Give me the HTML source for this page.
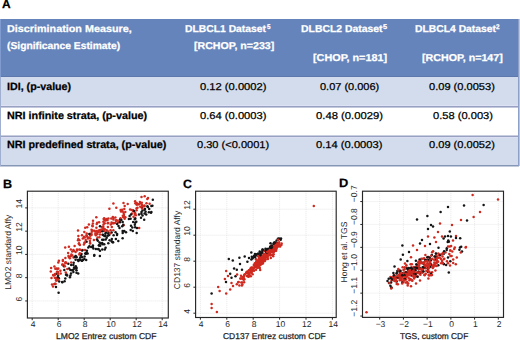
<!DOCTYPE html>
<html><head><meta charset="utf-8"><style>
html,body{margin:0;padding:0;background:#fff;width:520px;height:340px;overflow:hidden;position:relative;font-family:"Liberation Sans",sans-serif;text-rendering:geometricPrecision}
.bx{position:absolute}
.tx{position:absolute;white-space:nowrap;line-height:1;transform-origin:0 0;-webkit-text-stroke:0.25px currentColor}
svg{position:absolute;left:0;top:0}
.g{stroke:#e2e2e2;stroke-width:0.8;stroke-dasharray:1 1}
.bxl{fill:none;stroke:#262626;stroke-width:1.15}
.tkl{stroke:#262626;stroke-width:1}
.tk{font-size:8.5px;fill:#262626}
.al{font-size:8.5px;fill:#262626}
</style></head><body>

<div class="bx" style="left:0;top:19px;width:519px;height:58px;background:#6484bb"></div>
<div class="bx" style="left:0;top:76px;width:519px;height:1px;background:#5c78ad"></div>
<div class="bx" style="left:0;top:77px;width:519px;height:29px;background:#d3dcec"></div>
<div class="bx" style="left:0;top:105px;width:519px;height:1px;background:#dde3f4"></div>
<div class="bx" style="left:0;top:106px;width:519px;height:1px;background:#98a1c2"></div>
<div class="bx" style="left:0;top:107px;width:519px;height:1px;background:#c3c9dd"></div>
<div class="bx" style="left:0;top:108px;width:519px;height:28px;background:#fff"></div>
<div class="bx" style="left:0;top:135px;width:519px;height:1px;background:#c8cee0"></div>
<div class="bx" style="left:0;top:136px;width:519px;height:1px;background:#98a1c2"></div>
<div class="bx" style="left:0;top:137px;width:519px;height:28px;background:#d3dcec"></div>
<div class="bx" style="left:0;top:137px;width:519px;height:1px;background:#d9def2"></div>
<div class="bx" style="left:0;top:165px;width:519px;height:1px;background:#8596b6"></div>
<div class="bx" style="left:0;top:166px;width:519px;height:1px;background:#c4ccdc"></div>
<div class="bx" style="left:0;top:77px;width:1px;height:89px;background:#a0aed0"></div>
<div class="bx" style="left:0;top:19px;width:1px;height:58px;background:#7f9bd0"></div>
<div class="bx" style="left:518px;top:19px;width:1px;height:147px;background:#8ea0c8"></div>
<div class="bx" style="left:519px;top:19px;width:1px;height:147px;background:#b8c6e6"></div>
<div class="tx" style="left:1.89px;top:-1.00px;font-size:11.9px;font-weight:bold;color:#000;transform:scaleX(1.0071)">A</div><div class="tx" style="left:6.56px;top:25.00px;font-size:10.0px;font-weight:bold;color:#fff;transform:scaleX(1.0785)">Discrimination Measure,</div><div class="tx" style="left:6.55px;top:41.50px;font-size:10.0px;font-weight:bold;color:#fff;transform:scaleX(1.0276)">(Significance Estimate)</div><div class="tx" style="left:185.49px;top:25.00px;font-size:10.0px;font-weight:bold;color:#fff;transform:scaleX(1.0336)">DLBCL1 Dataset</div><div class="tx" style="left:267.31px;top:24.70px;font-size:6.9px;font-weight:bold;color:#fff;transform:scaleX(0.9160)">5</div><div class="tx" style="left:193.57px;top:41.50px;font-size:10.0px;font-weight:bold;color:#fff;transform:scaleX(1.0606)">[RCHOP, n=233]</div><div class="tx" style="left:300.89px;top:25.00px;font-size:10.0px;font-weight:bold;color:#fff;transform:scaleX(1.0413)">DLBCL2 Dataset</div><div class="tx" style="left:383.01px;top:24.50px;font-size:6.9px;font-weight:bold;color:#fff;transform:scaleX(1.0646)">5</div><div class="tx" style="left:312.56px;top:53.50px;font-size:10.0px;font-weight:bold;color:#fff;transform:scaleX(1.0820)">[CHOP, n=181]</div><div class="tx" style="left:414.69px;top:25.20px;font-size:10.0px;font-weight:bold;color:#fff;transform:scaleX(1.0336)">DLBCL4 Dataset</div><div class="tx" style="left:496.23px;top:24.70px;font-size:6.9px;font-weight:bold;color:#fff;transform:scaleX(0.9151)">2</div><div class="tx" style="left:422.46px;top:53.50px;font-size:10.0px;font-weight:bold;color:#fff;transform:scaleX(1.0673)">[RCHOP, n=147]</div><div class="tx" style="left:6.77px;top:81.50px;font-size:10.5px;font-weight:bold;color:#000;transform:scaleX(1.0178)">IDI, (p-value)</div><div class="tx" style="left:6.77px;top:110.80px;font-size:10.5px;font-weight:bold;color:#000;transform:scaleX(1.0263)">NRI infinite strata, (p-value)</div><div class="tx" style="left:6.77px;top:140.30px;font-size:10.5px;font-weight:bold;color:#000;transform:scaleX(1.0232)">NRI predefined strata, (p-value)</div><div class="tx" style="left:200.34px;top:82.60px;font-size:10.0px;font-weight:normal;color:#000;transform:scaleX(1.1170)">0.12 (0.0002)</div><div class="tx" style="left:200.34px;top:112.00px;font-size:10.0px;font-weight:normal;color:#000;transform:scaleX(1.1170)">0.64 (0.0003)</div><div class="tx" style="left:197.35px;top:141.30px;font-size:10.0px;font-weight:normal;color:#000;transform:scaleX(1.1048)">0.30 (&lt;0.0001)</div><div class="tx" style="left:319.75px;top:82.80px;font-size:10.0px;font-weight:normal;color:#000;transform:scaleX(1.0986)">0.07 (0.006)</div><div class="tx" style="left:316.34px;top:112.00px;font-size:10.0px;font-weight:normal;color:#000;transform:scaleX(1.1255)">0.48 (0.0029)</div><div class="tx" style="left:316.34px;top:141.30px;font-size:10.0px;font-weight:normal;color:#000;transform:scaleX(1.1170)">0.14 (0.0003)</div><div class="tx" style="left:429.44px;top:82.80px;font-size:10.0px;font-weight:normal;color:#000;transform:scaleX(1.1068)">0.09 (0.0053)</div><div class="tx" style="left:432.94px;top:112.00px;font-size:10.0px;font-weight:normal;color:#000;transform:scaleX(1.1119)">0.58 (0.003)</div><div class="tx" style="left:429.44px;top:141.30px;font-size:10.0px;font-weight:normal;color:#000;transform:scaleX(1.1068)">0.09 (0.0052)</div><div class="tx" style="left:3.19px;top:177.60px;font-size:12.0px;font-weight:bold;color:#000;transform:scaleX(1.0474)">B</div><div class="tx" style="left:182.91px;top:177.80px;font-size:12.0px;font-weight:bold;color:#000;transform:scaleX(1.0258)">C</div><div class="tx" style="left:339.48px;top:177.00px;font-size:12.0px;font-weight:bold;color:#000;transform:scaleX(1.0686)">D</div><div class="tx" style="left:56.48px;top:331.80px;font-size:8.5px;font-weight:normal;color:#222;transform:scaleX(1.0086)">LMO2 Entrez custom CDF</div><div class="tx" style="left:223.46px;top:331.80px;font-size:8.5px;font-weight:normal;color:#222;transform:scaleX(0.9972)">CD137 Entrez custom CDF</div><div class="tx" style="left:399.56px;top:331.80px;font-size:8.5px;font-weight:normal;color:#222;transform:scaleX(0.9828)">TGS, custom CDF</div>
<svg width="520" height="340" viewBox="0 0 520 340">
<line x1="32.20" y1="191.2" x2="32.20" y2="318.0" class="g"/>
<line x1="58.20" y1="191.2" x2="58.20" y2="318.0" class="g"/>
<line x1="84.20" y1="191.2" x2="84.20" y2="318.0" class="g"/>
<line x1="110.20" y1="191.2" x2="110.20" y2="318.0" class="g"/>
<line x1="136.20" y1="191.2" x2="136.20" y2="318.0" class="g"/>
<line x1="162.20" y1="191.2" x2="162.20" y2="318.0" class="g"/>
<line x1="27.4" y1="300.94" x2="168.3" y2="300.94" class="g"/>
<line x1="27.4" y1="277.68" x2="168.3" y2="277.68" class="g"/>
<line x1="27.4" y1="254.42" x2="168.3" y2="254.42" class="g"/>
<line x1="27.4" y1="231.16" x2="168.3" y2="231.16" class="g"/>
<line x1="27.4" y1="207.90" x2="168.3" y2="207.90" class="g"/>
<circle cx="90.2" cy="235.7" r="1.25" fill="#cf2a20"/>
<circle cx="152.4" cy="205.8" r="1.25" fill="#151515"/>
<circle cx="88.3" cy="247.5" r="1.25" fill="#151515"/>
<circle cx="122.2" cy="209.8" r="1.25" fill="#cf2a20"/>
<circle cx="123.3" cy="217.3" r="1.25" fill="#cf2a20"/>
<circle cx="146.2" cy="214.4" r="1.25" fill="#151515"/>
<circle cx="135.2" cy="213.3" r="1.25" fill="#cf2a20"/>
<circle cx="107.7" cy="223.2" r="1.25" fill="#cf2a20"/>
<circle cx="123.5" cy="225.3" r="1.25" fill="#cf2a20"/>
<circle cx="122.2" cy="226.2" r="1.25" fill="#151515"/>
<circle cx="124.3" cy="208.9" r="1.25" fill="#cf2a20"/>
<circle cx="70.4" cy="275.4" r="1.25" fill="#151515"/>
<circle cx="123.7" cy="231.2" r="1.25" fill="#151515"/>
<circle cx="136.9" cy="204.4" r="1.25" fill="#cf2a20"/>
<circle cx="79.0" cy="243.2" r="1.25" fill="#cf2a20"/>
<circle cx="79.9" cy="244.9" r="1.25" fill="#cf2a20"/>
<circle cx="99.9" cy="234.6" r="1.25" fill="#cf2a20"/>
<circle cx="84.0" cy="237.1" r="1.25" fill="#cf2a20"/>
<circle cx="102.3" cy="249.5" r="1.25" fill="#151515"/>
<circle cx="101.1" cy="230.4" r="1.25" fill="#cf2a20"/>
<circle cx="120.6" cy="209.9" r="1.25" fill="#cf2a20"/>
<circle cx="111.8" cy="239.1" r="1.25" fill="#151515"/>
<circle cx="119.3" cy="221.7" r="1.25" fill="#cf2a20"/>
<circle cx="84.4" cy="242.8" r="1.25" fill="#cf2a20"/>
<circle cx="77.1" cy="250.6" r="1.25" fill="#cf2a20"/>
<circle cx="112.2" cy="223.2" r="1.25" fill="#cf2a20"/>
<circle cx="99.5" cy="242.6" r="1.25" fill="#151515"/>
<circle cx="144.2" cy="219.7" r="1.25" fill="#151515"/>
<circle cx="124.7" cy="205.9" r="1.25" fill="#cf2a20"/>
<circle cx="56.8" cy="277.8" r="1.25" fill="#cf2a20"/>
<circle cx="132.0" cy="213.6" r="1.25" fill="#cf2a20"/>
<circle cx="58.1" cy="275.4" r="1.25" fill="#151515"/>
<circle cx="78.0" cy="260.0" r="1.25" fill="#151515"/>
<circle cx="77.0" cy="249.4" r="1.25" fill="#cf2a20"/>
<circle cx="147.3" cy="199.0" r="1.25" fill="#cf2a20"/>
<circle cx="94.3" cy="254.9" r="1.25" fill="#151515"/>
<circle cx="98.4" cy="249.2" r="1.25" fill="#151515"/>
<circle cx="95.8" cy="235.3" r="1.25" fill="#cf2a20"/>
<circle cx="60.4" cy="270.8" r="1.25" fill="#cf2a20"/>
<circle cx="145.6" cy="211.7" r="1.25" fill="#151515"/>
<circle cx="70.4" cy="270.1" r="1.25" fill="#151515"/>
<circle cx="76.6" cy="268.1" r="1.25" fill="#151515"/>
<circle cx="93.4" cy="248.6" r="1.25" fill="#151515"/>
<circle cx="117.1" cy="234.1" r="1.25" fill="#151515"/>
<circle cx="120.2" cy="219.3" r="1.25" fill="#cf2a20"/>
<circle cx="72.3" cy="255.6" r="1.25" fill="#cf2a20"/>
<circle cx="140.7" cy="203.2" r="1.25" fill="#cf2a20"/>
<circle cx="79.6" cy="259.6" r="1.25" fill="#151515"/>
<circle cx="56.4" cy="273.8" r="1.25" fill="#151515"/>
<circle cx="64.3" cy="270.0" r="1.25" fill="#151515"/>
<circle cx="136.6" cy="210.3" r="1.25" fill="#cf2a20"/>
<circle cx="104.1" cy="231.0" r="1.25" fill="#cf2a20"/>
<circle cx="62.9" cy="261.1" r="1.25" fill="#cf2a20"/>
<circle cx="116.8" cy="220.6" r="1.25" fill="#cf2a20"/>
<circle cx="74.0" cy="251.0" r="1.25" fill="#cf2a20"/>
<circle cx="108.7" cy="233.3" r="1.25" fill="#151515"/>
<circle cx="124.4" cy="217.2" r="1.25" fill="#cf2a20"/>
<circle cx="97.5" cy="237.6" r="1.25" fill="#cf2a20"/>
<circle cx="116.2" cy="220.3" r="1.25" fill="#cf2a20"/>
<circle cx="73.4" cy="264.9" r="1.25" fill="#151515"/>
<circle cx="100.0" cy="230.0" r="1.25" fill="#cf2a20"/>
<circle cx="90.4" cy="238.4" r="1.25" fill="#cf2a20"/>
<circle cx="75.6" cy="259.8" r="1.25" fill="#151515"/>
<circle cx="148.9" cy="212.2" r="1.25" fill="#151515"/>
<circle cx="134.9" cy="214.6" r="1.25" fill="#cf2a20"/>
<circle cx="71.0" cy="273.5" r="1.25" fill="#151515"/>
<circle cx="112.6" cy="242.2" r="1.25" fill="#151515"/>
<circle cx="68.3" cy="263.7" r="1.25" fill="#151515"/>
<circle cx="71.2" cy="262.4" r="1.25" fill="#cf2a20"/>
<circle cx="86.5" cy="235.3" r="1.25" fill="#cf2a20"/>
<circle cx="94.2" cy="255.7" r="1.25" fill="#151515"/>
<circle cx="100.6" cy="243.4" r="1.25" fill="#151515"/>
<circle cx="141.0" cy="217.7" r="1.25" fill="#151515"/>
<circle cx="100.2" cy="231.9" r="1.25" fill="#cf2a20"/>
<circle cx="100.0" cy="250.8" r="1.25" fill="#151515"/>
<circle cx="79.4" cy="260.1" r="1.25" fill="#151515"/>
<circle cx="89.0" cy="238.1" r="1.25" fill="#cf2a20"/>
<circle cx="55.0" cy="273.9" r="1.25" fill="#cf2a20"/>
<circle cx="130.1" cy="209.4" r="1.25" fill="#cf2a20"/>
<circle cx="78.4" cy="236.0" r="1.25" fill="#cf2a20"/>
<circle cx="104.7" cy="220.3" r="1.25" fill="#cf2a20"/>
<circle cx="71.2" cy="265.0" r="1.25" fill="#151515"/>
<circle cx="63.7" cy="264.9" r="1.25" fill="#cf2a20"/>
<circle cx="69.9" cy="277.2" r="1.25" fill="#151515"/>
<circle cx="86.6" cy="241.8" r="1.25" fill="#151515"/>
<circle cx="122.6" cy="231.1" r="1.25" fill="#151515"/>
<circle cx="51.1" cy="268.0" r="1.25" fill="#cf2a20"/>
<circle cx="80.2" cy="257.4" r="1.25" fill="#151515"/>
<circle cx="133.1" cy="210.4" r="1.25" fill="#151515"/>
<circle cx="78.9" cy="244.1" r="1.25" fill="#cf2a20"/>
<circle cx="106.1" cy="232.6" r="1.25" fill="#151515"/>
<circle cx="78.0" cy="240.2" r="1.25" fill="#cf2a20"/>
<circle cx="118.5" cy="226.0" r="1.25" fill="#151515"/>
<circle cx="108.3" cy="243.3" r="1.25" fill="#151515"/>
<circle cx="65.8" cy="272.4" r="1.25" fill="#cf2a20"/>
<circle cx="97.8" cy="240.8" r="1.25" fill="#151515"/>
<circle cx="79.4" cy="240.3" r="1.25" fill="#cf2a20"/>
<circle cx="111.3" cy="218.6" r="1.25" fill="#cf2a20"/>
<circle cx="56.4" cy="268.6" r="1.25" fill="#cf2a20"/>
<circle cx="99.1" cy="222.3" r="1.25" fill="#cf2a20"/>
<circle cx="122.6" cy="238.2" r="1.25" fill="#151515"/>
<circle cx="82.0" cy="260.7" r="1.25" fill="#151515"/>
<circle cx="107.8" cy="235.7" r="1.25" fill="#151515"/>
<circle cx="130.7" cy="230.1" r="1.25" fill="#151515"/>
<circle cx="102.3" cy="231.2" r="1.25" fill="#151515"/>
<circle cx="73.4" cy="271.9" r="1.25" fill="#151515"/>
<circle cx="57.5" cy="269.0" r="1.25" fill="#cf2a20"/>
<circle cx="103.2" cy="226.6" r="1.25" fill="#cf2a20"/>
<circle cx="92.9" cy="247.1" r="1.25" fill="#151515"/>
<circle cx="86.2" cy="260.0" r="1.25" fill="#151515"/>
<circle cx="135.8" cy="215.2" r="1.25" fill="#cf2a20"/>
<circle cx="149.2" cy="208.9" r="1.25" fill="#151515"/>
<circle cx="76.2" cy="256.4" r="1.25" fill="#cf2a20"/>
<circle cx="101.9" cy="227.0" r="1.25" fill="#cf2a20"/>
<circle cx="85.2" cy="253.6" r="1.25" fill="#151515"/>
<circle cx="81.5" cy="254.1" r="1.25" fill="#151515"/>
<circle cx="86.7" cy="233.6" r="1.25" fill="#cf2a20"/>
<circle cx="128.9" cy="218.9" r="1.25" fill="#151515"/>
<circle cx="122.6" cy="211.4" r="1.25" fill="#cf2a20"/>
<circle cx="65.5" cy="262.6" r="1.25" fill="#cf2a20"/>
<circle cx="103.4" cy="221.7" r="1.25" fill="#cf2a20"/>
<circle cx="74.1" cy="267.4" r="1.25" fill="#151515"/>
<circle cx="68.9" cy="246.8" r="1.25" fill="#cf2a20"/>
<circle cx="103.0" cy="235.0" r="1.25" fill="#151515"/>
<circle cx="91.8" cy="231.8" r="1.25" fill="#cf2a20"/>
<circle cx="60.7" cy="273.4" r="1.25" fill="#cf2a20"/>
<circle cx="141.5" cy="212.0" r="1.25" fill="#151515"/>
<circle cx="115.9" cy="239.1" r="1.25" fill="#151515"/>
<circle cx="152.8" cy="199.8" r="1.25" fill="#151515"/>
<circle cx="82.0" cy="235.3" r="1.25" fill="#cf2a20"/>
<circle cx="136.7" cy="202.9" r="1.25" fill="#cf2a20"/>
<circle cx="68.1" cy="253.1" r="1.25" fill="#cf2a20"/>
<circle cx="82.7" cy="250.0" r="1.25" fill="#cf2a20"/>
<circle cx="138.2" cy="204.2" r="1.25" fill="#cf2a20"/>
<circle cx="58.2" cy="273.9" r="1.25" fill="#cf2a20"/>
<circle cx="102.6" cy="234.7" r="1.25" fill="#151515"/>
<circle cx="84.6" cy="256.4" r="1.25" fill="#151515"/>
<circle cx="104.7" cy="223.3" r="1.25" fill="#cf2a20"/>
<circle cx="57.0" cy="271.7" r="1.25" fill="#cf2a20"/>
<circle cx="53.0" cy="286.5" r="1.25" fill="#cf2a20"/>
<circle cx="113.4" cy="230.3" r="1.25" fill="#cf2a20"/>
<circle cx="139.9" cy="202.1" r="1.25" fill="#cf2a20"/>
<circle cx="54.8" cy="275.0" r="1.25" fill="#cf2a20"/>
<circle cx="141.8" cy="202.7" r="1.25" fill="#cf2a20"/>
<circle cx="103.5" cy="224.5" r="1.25" fill="#cf2a20"/>
<circle cx="144.4" cy="205.5" r="1.25" fill="#cf2a20"/>
<circle cx="58.3" cy="262.4" r="1.25" fill="#cf2a20"/>
<circle cx="66.9" cy="274.4" r="1.25" fill="#cf2a20"/>
<circle cx="85.0" cy="250.1" r="1.25" fill="#cf2a20"/>
<circle cx="135.2" cy="218.2" r="1.25" fill="#151515"/>
<circle cx="65.3" cy="278.5" r="1.25" fill="#151515"/>
<circle cx="82.1" cy="250.6" r="1.25" fill="#151515"/>
<circle cx="134.8" cy="219.3" r="1.25" fill="#151515"/>
<circle cx="83.9" cy="244.6" r="1.25" fill="#cf2a20"/>
<circle cx="65.4" cy="262.6" r="1.25" fill="#cf2a20"/>
<circle cx="98.3" cy="249.1" r="1.25" fill="#151515"/>
<circle cx="151.0" cy="212.8" r="1.25" fill="#151515"/>
<circle cx="131.0" cy="225.7" r="1.25" fill="#151515"/>
<circle cx="147.4" cy="206.3" r="1.25" fill="#151515"/>
<circle cx="115.9" cy="220.8" r="1.25" fill="#cf2a20"/>
<circle cx="84.3" cy="232.1" r="1.25" fill="#cf2a20"/>
<circle cx="54.5" cy="284.0" r="1.25" fill="#151515"/>
<circle cx="103.3" cy="229.3" r="1.25" fill="#cf2a20"/>
<circle cx="116.3" cy="207.7" r="1.25" fill="#cf2a20"/>
<circle cx="90.1" cy="243.1" r="1.25" fill="#cf2a20"/>
<circle cx="136.6" cy="204.4" r="1.25" fill="#cf2a20"/>
<circle cx="111.7" cy="241.2" r="1.25" fill="#151515"/>
<circle cx="136.6" cy="208.2" r="1.25" fill="#cf2a20"/>
<circle cx="133.2" cy="222.1" r="1.25" fill="#151515"/>
<circle cx="76.5" cy="257.2" r="1.25" fill="#151515"/>
<circle cx="91.5" cy="229.7" r="1.25" fill="#cf2a20"/>
<circle cx="87.5" cy="237.0" r="1.25" fill="#cf2a20"/>
<circle cx="135.1" cy="201.2" r="1.25" fill="#cf2a20"/>
<circle cx="58.9" cy="260.7" r="1.25" fill="#cf2a20"/>
<circle cx="90.0" cy="243.4" r="1.25" fill="#cf2a20"/>
<circle cx="73.5" cy="257.5" r="1.25" fill="#cf2a20"/>
<circle cx="117.7" cy="222.8" r="1.25" fill="#cf2a20"/>
<circle cx="72.2" cy="251.6" r="1.25" fill="#cf2a20"/>
<circle cx="104.8" cy="249.6" r="1.25" fill="#151515"/>
<circle cx="78.0" cy="230.4" r="1.25" fill="#cf2a20"/>
<circle cx="119.3" cy="220.7" r="1.25" fill="#cf2a20"/>
<circle cx="125.3" cy="212.0" r="1.25" fill="#cf2a20"/>
<circle cx="73.7" cy="262.7" r="1.25" fill="#151515"/>
<circle cx="142.0" cy="204.9" r="1.25" fill="#cf2a20"/>
<circle cx="68.5" cy="255.9" r="1.25" fill="#cf2a20"/>
<circle cx="142.2" cy="207.7" r="1.25" fill="#151515"/>
<circle cx="118.3" cy="241.0" r="1.25" fill="#151515"/>
<circle cx="85.9" cy="253.7" r="1.25" fill="#151515"/>
<circle cx="96.2" cy="233.2" r="1.25" fill="#cf2a20"/>
<circle cx="53.2" cy="275.1" r="1.25" fill="#cf2a20"/>
<circle cx="134.8" cy="212.6" r="1.25" fill="#cf2a20"/>
<circle cx="76.5" cy="272.7" r="1.25" fill="#151515"/>
<circle cx="86.2" cy="253.6" r="1.25" fill="#151515"/>
<circle cx="84.4" cy="259.1" r="1.25" fill="#151515"/>
<circle cx="105.4" cy="219.4" r="1.25" fill="#cf2a20"/>
<circle cx="96.3" cy="217.2" r="1.25" fill="#cf2a20"/>
<circle cx="82.8" cy="238.6" r="1.25" fill="#cf2a20"/>
<circle cx="92.5" cy="230.4" r="1.25" fill="#cf2a20"/>
<circle cx="51.5" cy="278.1" r="1.25" fill="#cf2a20"/>
<circle cx="75.6" cy="256.0" r="1.25" fill="#151515"/>
<circle cx="86.9" cy="250.7" r="1.25" fill="#151515"/>
<circle cx="58.0" cy="277.2" r="1.25" fill="#151515"/>
<circle cx="108.3" cy="231.5" r="1.25" fill="#cf2a20"/>
<circle cx="56.9" cy="280.5" r="1.25" fill="#cf2a20"/>
<circle cx="136.3" cy="221.8" r="1.25" fill="#151515"/>
<circle cx="55.9" cy="278.8" r="1.25" fill="#cf2a20"/>
<circle cx="50.8" cy="271.4" r="1.25" fill="#cf2a20"/>
<circle cx="88.9" cy="224.4" r="1.25" fill="#cf2a20"/>
<circle cx="56.0" cy="280.4" r="1.25" fill="#cf2a20"/>
<circle cx="92.4" cy="225.6" r="1.25" fill="#cf2a20"/>
<circle cx="85.2" cy="227.8" r="1.25" fill="#cf2a20"/>
<circle cx="66.0" cy="274.7" r="1.25" fill="#151515"/>
<circle cx="111.8" cy="226.9" r="1.25" fill="#cf2a20"/>
<circle cx="58.8" cy="278.3" r="1.25" fill="#151515"/>
<circle cx="107.3" cy="220.2" r="1.25" fill="#cf2a20"/>
<circle cx="144.3" cy="206.3" r="1.25" fill="#cf2a20"/>
<circle cx="86.8" cy="236.0" r="1.25" fill="#cf2a20"/>
<circle cx="105.3" cy="233.7" r="1.25" fill="#151515"/>
<circle cx="126.0" cy="232.3" r="1.25" fill="#151515"/>
<circle cx="124.3" cy="231.1" r="1.25" fill="#151515"/>
<circle cx="115.4" cy="217.6" r="1.25" fill="#cf2a20"/>
<circle cx="92.9" cy="245.4" r="1.25" fill="#151515"/>
<circle cx="58.3" cy="268.4" r="1.25" fill="#cf2a20"/>
<circle cx="103.6" cy="239.7" r="1.25" fill="#151515"/>
<circle cx="109.6" cy="240.3" r="1.25" fill="#151515"/>
<circle cx="113.4" cy="223.1" r="1.25" fill="#cf2a20"/>
<circle cx="122.7" cy="233.1" r="1.25" fill="#151515"/>
<circle cx="76.5" cy="270.2" r="1.25" fill="#151515"/>
<circle cx="99.9" cy="256.1" r="1.25" fill="#151515"/>
<circle cx="142.5" cy="210.5" r="1.25" fill="#151515"/>
<circle cx="131.0" cy="214.4" r="1.25" fill="#151515"/>
<circle cx="70.8" cy="249.5" r="1.25" fill="#cf2a20"/>
<circle cx="129.6" cy="215.9" r="1.25" fill="#151515"/>
<circle cx="117.1" cy="224.1" r="1.25" fill="#151515"/>
<circle cx="141.5" cy="197.1" r="1.25" fill="#cf2a20"/>
<circle cx="78.4" cy="261.0" r="1.25" fill="#151515"/>
<circle cx="62.3" cy="282.3" r="1.25" fill="#151515"/>
<circle cx="134.8" cy="224.7" r="1.25" fill="#151515"/>
<circle cx="105.6" cy="247.8" r="1.25" fill="#151515"/>
<circle cx="89.9" cy="241.0" r="1.25" fill="#cf2a20"/>
<circle cx="69.1" cy="268.6" r="1.25" fill="#151515"/>
<circle cx="104.2" cy="244.3" r="1.25" fill="#151515"/>
<circle cx="75.4" cy="268.3" r="1.25" fill="#151515"/>
<circle cx="68.9" cy="256.9" r="1.25" fill="#cf2a20"/>
<circle cx="84.7" cy="237.6" r="1.25" fill="#cf2a20"/>
<circle cx="93.0" cy="220.7" r="1.25" fill="#cf2a20"/>
<circle cx="133.2" cy="211.0" r="1.25" fill="#cf2a20"/>
<circle cx="109.4" cy="208.7" r="1.25" fill="#cf2a20"/>
<circle cx="96.4" cy="227.7" r="1.25" fill="#cf2a20"/>
<circle cx="62.9" cy="260.0" r="1.25" fill="#cf2a20"/>
<circle cx="117.0" cy="235.0" r="1.25" fill="#151515"/>
<circle cx="115.6" cy="232.2" r="1.25" fill="#151515"/>
<circle cx="145.0" cy="209.0" r="1.25" fill="#151515"/>
<circle cx="113.4" cy="203.5" r="1.25" fill="#cf2a20"/>
<circle cx="66.2" cy="262.7" r="1.25" fill="#cf2a20"/>
<circle cx="69.8" cy="258.3" r="1.25" fill="#cf2a20"/>
<circle cx="123.3" cy="224.8" r="1.25" fill="#151515"/>
<circle cx="80.3" cy="249.7" r="1.25" fill="#cf2a20"/>
<circle cx="100.0" cy="226.3" r="1.25" fill="#151515"/>
<circle cx="53.5" cy="275.6" r="1.25" fill="#cf2a20"/>
<circle cx="97.4" cy="233.9" r="1.25" fill="#cf2a20"/>
<circle cx="75.8" cy="266.3" r="1.25" fill="#151515"/>
<circle cx="109.2" cy="235.0" r="1.25" fill="#151515"/>
<circle cx="111.6" cy="222.6" r="1.25" fill="#cf2a20"/>
<circle cx="106.9" cy="219.1" r="1.25" fill="#cf2a20"/>
<circle cx="102.2" cy="243.1" r="1.25" fill="#151515"/>
<circle cx="105.7" cy="239.4" r="1.25" fill="#151515"/>
<circle cx="67.3" cy="269.1" r="1.25" fill="#cf2a20"/>
<circle cx="63.9" cy="266.3" r="1.25" fill="#151515"/>
<circle cx="79.4" cy="254.4" r="1.25" fill="#cf2a20"/>
<circle cx="100.2" cy="245.7" r="1.25" fill="#151515"/>
<circle cx="110.6" cy="230.2" r="1.25" fill="#cf2a20"/>
<circle cx="52.0" cy="284.6" r="1.25" fill="#cf2a20"/>
<circle cx="95.3" cy="234.1" r="1.25" fill="#cf2a20"/>
<circle cx="113.7" cy="223.2" r="1.25" fill="#cf2a20"/>
<circle cx="91.5" cy="234.0" r="1.25" fill="#cf2a20"/>
<circle cx="148.0" cy="197.9" r="1.25" fill="#cf2a20"/>
<circle cx="106.7" cy="230.2" r="1.25" fill="#cf2a20"/>
<circle cx="106.7" cy="237.7" r="1.25" fill="#151515"/>
<circle cx="140.3" cy="206.7" r="1.25" fill="#cf2a20"/>
<circle cx="91.5" cy="235.1" r="1.25" fill="#cf2a20"/>
<circle cx="57.8" cy="274.0" r="1.25" fill="#cf2a20"/>
<circle cx="122.7" cy="221.9" r="1.25" fill="#151515"/>
<circle cx="149.6" cy="203.8" r="1.25" fill="#cf2a20"/>
<circle cx="108.3" cy="233.5" r="1.25" fill="#151515"/>
<circle cx="133.5" cy="216.8" r="1.25" fill="#cf2a20"/>
<circle cx="130.6" cy="218.7" r="1.25" fill="#151515"/>
<circle cx="144.7" cy="196.2" r="1.25" fill="#cf2a20"/>
<circle cx="90.6" cy="233.8" r="1.25" fill="#cf2a20"/>
<circle cx="146.5" cy="203.3" r="1.25" fill="#cf2a20"/>
<circle cx="81.9" cy="260.8" r="1.25" fill="#151515"/>
<circle cx="131.7" cy="210.0" r="1.25" fill="#cf2a20"/>
<circle cx="79.8" cy="253.3" r="1.25" fill="#cf2a20"/>
<circle cx="113.1" cy="242.3" r="1.25" fill="#151515"/>
<circle cx="98.6" cy="230.5" r="1.25" fill="#cf2a20"/>
<circle cx="141.4" cy="213.7" r="1.25" fill="#151515"/>
<circle cx="108.4" cy="218.6" r="1.25" fill="#cf2a20"/>
<circle cx="120.1" cy="219.3" r="1.25" fill="#151515"/>
<circle cx="135.2" cy="222.8" r="1.25" fill="#151515"/>
<circle cx="137.5" cy="207.7" r="1.25" fill="#cf2a20"/>
<circle cx="62.2" cy="282.0" r="1.25" fill="#151515"/>
<circle cx="92.9" cy="223.5" r="1.25" fill="#cf2a20"/>
<circle cx="102.6" cy="244.2" r="1.25" fill="#151515"/>
<circle cx="99.4" cy="237.3" r="1.25" fill="#cf2a20"/>
<circle cx="73.4" cy="249.9" r="1.25" fill="#cf2a20"/>
<circle cx="104.2" cy="218.3" r="1.25" fill="#cf2a20"/>
<circle cx="83.0" cy="259.9" r="1.25" fill="#151515"/>
<circle cx="102.2" cy="239.8" r="1.25" fill="#151515"/>
<circle cx="110.8" cy="224.4" r="1.25" fill="#cf2a20"/>
<circle cx="135.1" cy="227.3" r="1.25" fill="#151515"/>
<circle cx="144.6" cy="213.6" r="1.25" fill="#151515"/>
<circle cx="55.3" cy="268.8" r="1.25" fill="#cf2a20"/>
<circle cx="58.3" cy="279.6" r="1.25" fill="#cf2a20"/>
<circle cx="94.9" cy="231.4" r="1.25" fill="#cf2a20"/>
<circle cx="124.7" cy="218.7" r="1.25" fill="#cf2a20"/>
<circle cx="142.2" cy="205.9" r="1.25" fill="#cf2a20"/>
<circle cx="120.5" cy="218.2" r="1.25" fill="#cf2a20"/>
<circle cx="81.1" cy="255.8" r="1.25" fill="#151515"/>
<circle cx="147.9" cy="207.0" r="1.25" fill="#151515"/>
<circle cx="62.5" cy="264.5" r="1.25" fill="#cf2a20"/>
<circle cx="78.4" cy="239.0" r="1.25" fill="#cf2a20"/>
<circle cx="58.6" cy="292.7" r="1.25" fill="#151515"/>
<circle cx="144.6" cy="209.7" r="1.25" fill="#151515"/>
<circle cx="71.4" cy="254.5" r="1.25" fill="#cf2a20"/>
<circle cx="136.7" cy="232.9" r="1.25" fill="#151515"/>
<circle cx="132.3" cy="227.5" r="1.25" fill="#151515"/>
<circle cx="62.3" cy="264.7" r="1.25" fill="#cf2a20"/>
<circle cx="64.9" cy="266.3" r="1.25" fill="#cf2a20"/>
<circle cx="74.7" cy="257.0" r="1.25" fill="#151515"/>
<circle cx="85.0" cy="242.6" r="1.25" fill="#cf2a20"/>
<circle cx="105.5" cy="220.4" r="1.25" fill="#cf2a20"/>
<circle cx="120.0" cy="222.2" r="1.25" fill="#151515"/>
<circle cx="101.5" cy="229.6" r="1.25" fill="#cf2a20"/>
<circle cx="121.0" cy="211.4" r="1.25" fill="#cf2a20"/>
<circle cx="139.0" cy="214.4" r="1.25" fill="#151515"/>
<circle cx="116.7" cy="220.7" r="1.25" fill="#cf2a20"/>
<circle cx="92.6" cy="226.3" r="1.25" fill="#cf2a20"/>
<circle cx="104.9" cy="229.3" r="1.25" fill="#cf2a20"/>
<circle cx="87.2" cy="227.2" r="1.25" fill="#cf2a20"/>
<circle cx="135.3" cy="203.2" r="1.25" fill="#cf2a20"/>
<circle cx="119.5" cy="227.9" r="1.25" fill="#151515"/>
<circle cx="65.7" cy="263.2" r="1.25" fill="#cf2a20"/>
<circle cx="121.4" cy="220.0" r="1.25" fill="#151515"/>
<circle cx="75.6" cy="251.9" r="1.25" fill="#cf2a20"/>
<circle cx="113.4" cy="219.4" r="1.25" fill="#cf2a20"/>
<circle cx="139.2" cy="228.1" r="1.25" fill="#cf2a20"/>
<circle cx="67.1" cy="275.4" r="1.25" fill="#151515"/>
<circle cx="59.2" cy="281.6" r="1.25" fill="#151515"/>
<circle cx="111.6" cy="232.6" r="1.25" fill="#151515"/>
<circle cx="98.9" cy="245.2" r="1.25" fill="#151515"/>
<circle cx="99.1" cy="245.5" r="1.25" fill="#151515"/>
<circle cx="127.7" cy="204.0" r="1.25" fill="#cf2a20"/>
<circle cx="123.7" cy="213.1" r="1.25" fill="#cf2a20"/>
<circle cx="151.4" cy="206.1" r="1.25" fill="#151515"/>
<circle cx="85.7" cy="239.9" r="1.25" fill="#cf2a20"/>
<circle cx="105.5" cy="236.0" r="1.25" fill="#151515"/>
<circle cx="125.4" cy="217.2" r="1.25" fill="#cf2a20"/>
<circle cx="55.4" cy="283.7" r="1.25" fill="#cf2a20"/>
<circle cx="58.1" cy="272.1" r="1.25" fill="#cf2a20"/>
<circle cx="86.5" cy="252.6" r="1.25" fill="#151515"/>
<circle cx="65.4" cy="258.1" r="1.25" fill="#cf2a20"/>
<circle cx="65.2" cy="247.5" r="1.25" fill="#cf2a20"/>
<circle cx="74.5" cy="268.4" r="1.25" fill="#151515"/>
<circle cx="98.0" cy="232.0" r="1.25" fill="#cf2a20"/>
<circle cx="137.0" cy="227.9" r="1.25" fill="#151515"/>
<circle cx="96.9" cy="239.5" r="1.25" fill="#151515"/>
<circle cx="151.4" cy="212.1" r="1.25" fill="#151515"/>
<circle cx="103.7" cy="219.1" r="1.25" fill="#cf2a20"/>
<circle cx="132.8" cy="231.1" r="1.25" fill="#151515"/>
<circle cx="82.2" cy="257.2" r="1.25" fill="#151515"/>
<circle cx="73.2" cy="269.7" r="1.25" fill="#151515"/>
<circle cx="79.3" cy="249.4" r="1.25" fill="#cf2a20"/>
<circle cx="87.6" cy="253.5" r="1.25" fill="#151515"/>
<circle cx="123.5" cy="202.9" r="1.25" fill="#cf2a20"/>
<circle cx="78.2" cy="273.6" r="1.25" fill="#151515"/>
<circle cx="56.0" cy="287.0" r="1.25" fill="#151515"/>
<circle cx="72.0" cy="270.3" r="1.25" fill="#151515"/>
<circle cx="54.9" cy="277.7" r="1.25" fill="#cf2a20"/>
<circle cx="97.2" cy="222.7" r="1.25" fill="#cf2a20"/>
<circle cx="134.0" cy="211.0" r="1.25" fill="#151515"/>
<circle cx="124.0" cy="214.9" r="1.25" fill="#cf2a20"/>
<circle cx="80.4" cy="260.1" r="1.25" fill="#151515"/>
<circle cx="139.1" cy="204.2" r="1.25" fill="#cf2a20"/>
<circle cx="122.8" cy="215.7" r="1.25" fill="#cf2a20"/>
<circle cx="54.4" cy="266.5" r="1.25" fill="#cf2a20"/>
<circle cx="74.6" cy="245.9" r="1.25" fill="#cf2a20"/>
<circle cx="142.0" cy="208.6" r="1.25" fill="#cf2a20"/>
<circle cx="107.9" cy="227.1" r="1.25" fill="#cf2a20"/>
<circle cx="87.9" cy="238.4" r="1.25" fill="#cf2a20"/>
<circle cx="108.3" cy="222.9" r="1.25" fill="#cf2a20"/>
<circle cx="113.5" cy="218.1" r="1.25" fill="#cf2a20"/>
<circle cx="96.7" cy="223.9" r="1.25" fill="#cf2a20"/>
<circle cx="64.6" cy="281.3" r="1.25" fill="#151515"/>
<circle cx="115.1" cy="223.1" r="1.25" fill="#cf2a20"/>
<circle cx="89.3" cy="233.9" r="1.25" fill="#151515"/>
<circle cx="104.4" cy="236.1" r="1.25" fill="#151515"/>
<circle cx="89.3" cy="246.3" r="1.25" fill="#151515"/>
<circle cx="94.4" cy="230.8" r="1.25" fill="#cf2a20"/>
<circle cx="142.5" cy="215.6" r="1.25" fill="#151515"/>
<circle cx="110.2" cy="233.5" r="1.25" fill="#cf2a20"/>
<circle cx="95.9" cy="248.9" r="1.25" fill="#151515"/>
<circle cx="91.2" cy="247.1" r="1.25" fill="#151515"/>
<circle cx="96.6" cy="231.0" r="1.25" fill="#cf2a20"/>
<circle cx="112.8" cy="217.1" r="1.25" fill="#cf2a20"/>
<circle cx="55.3" cy="284.0" r="1.25" fill="#cf2a20"/>
<circle cx="93.9" cy="240.1" r="1.25" fill="#cf2a20"/>
<circle cx="113.6" cy="235.3" r="1.25" fill="#151515"/>
<circle cx="70.7" cy="256.2" r="1.25" fill="#cf2a20"/>
<circle cx="103.5" cy="228.3" r="1.25" fill="#cf2a20"/>
<circle cx="84.3" cy="237.0" r="1.25" fill="#cf2a20"/>
<rect x="27.4" y="191.2" width="140.90" height="126.80" class="bxl"/>
<line x1="32.20" y1="318.0" x2="32.20" y2="320.2" class="tkl"/>
<text x="33.00" y="327.3" text-anchor="middle" class="tk">4</text>
<line x1="58.20" y1="318.0" x2="58.20" y2="320.2" class="tkl"/>
<text x="59.00" y="327.3" text-anchor="middle" class="tk">6</text>
<line x1="84.20" y1="318.0" x2="84.20" y2="320.2" class="tkl"/>
<text x="85.00" y="327.3" text-anchor="middle" class="tk">8</text>
<line x1="110.20" y1="318.0" x2="110.20" y2="320.2" class="tkl"/>
<text x="111.00" y="327.3" text-anchor="middle" class="tk">10</text>
<line x1="136.20" y1="318.0" x2="136.20" y2="320.2" class="tkl"/>
<text x="137.00" y="327.3" text-anchor="middle" class="tk">12</text>
<line x1="162.20" y1="318.0" x2="162.20" y2="320.2" class="tkl"/>
<text x="163.00" y="327.3" text-anchor="middle" class="tk">14</text>
<line x1="25.2" y1="300.94" x2="27.4" y2="300.94" class="tkl"/>
<text transform="translate(21.60,301.54) rotate(-90)" text-anchor="start" class="tk">6</text>
<line x1="25.2" y1="277.68" x2="27.4" y2="277.68" class="tkl"/>
<text transform="translate(21.60,278.28) rotate(-90)" text-anchor="start" class="tk">8</text>
<line x1="25.2" y1="254.42" x2="27.4" y2="254.42" class="tkl"/>
<text transform="translate(21.60,255.02) rotate(-90)" text-anchor="start" class="tk">10</text>
<line x1="25.2" y1="231.16" x2="27.4" y2="231.16" class="tkl"/>
<text transform="translate(21.60,231.76) rotate(-90)" text-anchor="start" class="tk">12</text>
<line x1="25.2" y1="207.90" x2="27.4" y2="207.90" class="tkl"/>
<text transform="translate(21.60,208.50) rotate(-90)" text-anchor="start" class="tk">14</text>
<text transform="translate(11.4,252.2) rotate(-90)" text-anchor="middle" class="al">LMO2 standard Affy</text><line x1="200.40" y1="191.2" x2="200.40" y2="317.5" class="g"/>
<line x1="226.80" y1="191.2" x2="226.80" y2="317.5" class="g"/>
<line x1="253.20" y1="191.2" x2="253.20" y2="317.5" class="g"/>
<line x1="279.60" y1="191.2" x2="279.60" y2="317.5" class="g"/>
<line x1="306.00" y1="191.2" x2="306.00" y2="317.5" class="g"/>
<line x1="332.40" y1="191.2" x2="332.40" y2="317.5" class="g"/>
<line x1="195.6" y1="313.20" x2="336.2" y2="313.20" class="g"/>
<line x1="195.6" y1="287.20" x2="336.2" y2="287.20" class="g"/>
<line x1="195.6" y1="261.20" x2="336.2" y2="261.20" class="g"/>
<line x1="195.6" y1="235.20" x2="336.2" y2="235.20" class="g"/>
<line x1="195.6" y1="209.20" x2="336.2" y2="209.20" class="g"/>
<circle cx="275.3" cy="249.0" r="1.25" fill="#cf2a20"/>
<circle cx="271.8" cy="252.0" r="1.25" fill="#cf2a20"/>
<circle cx="267.3" cy="256.1" r="1.25" fill="#cf2a20"/>
<circle cx="268.7" cy="248.7" r="1.25" fill="#151515"/>
<circle cx="267.8" cy="250.5" r="1.25" fill="#cf2a20"/>
<circle cx="270.5" cy="248.3" r="1.25" fill="#cf2a20"/>
<circle cx="259.8" cy="261.7" r="1.25" fill="#cf2a20"/>
<circle cx="271.4" cy="248.6" r="1.25" fill="#cf2a20"/>
<circle cx="233.0" cy="286.0" r="1.25" fill="#cf2a20"/>
<circle cx="260.6" cy="259.4" r="1.25" fill="#cf2a20"/>
<circle cx="276.2" cy="248.2" r="1.25" fill="#cf2a20"/>
<circle cx="248.8" cy="276.5" r="1.25" fill="#cf2a20"/>
<circle cx="255.0" cy="264.9" r="1.25" fill="#cf2a20"/>
<circle cx="254.3" cy="255.7" r="1.25" fill="#151515"/>
<circle cx="262.5" cy="249.4" r="1.25" fill="#151515"/>
<circle cx="241.9" cy="285.5" r="1.25" fill="#cf2a20"/>
<circle cx="253.4" cy="269.0" r="1.25" fill="#cf2a20"/>
<circle cx="260.3" cy="258.7" r="1.25" fill="#cf2a20"/>
<circle cx="242.4" cy="284.6" r="1.25" fill="#cf2a20"/>
<circle cx="270.7" cy="247.2" r="1.25" fill="#cf2a20"/>
<circle cx="267.2" cy="249.1" r="1.25" fill="#151515"/>
<circle cx="256.0" cy="254.4" r="1.25" fill="#151515"/>
<circle cx="234.1" cy="268.4" r="1.25" fill="#151515"/>
<circle cx="249.1" cy="275.3" r="1.25" fill="#cf2a20"/>
<circle cx="258.9" cy="260.6" r="1.25" fill="#cf2a20"/>
<circle cx="276.1" cy="248.0" r="1.25" fill="#cf2a20"/>
<circle cx="269.6" cy="252.5" r="1.25" fill="#cf2a20"/>
<circle cx="264.9" cy="259.6" r="1.25" fill="#cf2a20"/>
<circle cx="262.9" cy="257.3" r="1.25" fill="#cf2a20"/>
<circle cx="272.7" cy="251.6" r="1.25" fill="#cf2a20"/>
<circle cx="272.1" cy="248.6" r="1.25" fill="#cf2a20"/>
<circle cx="268.0" cy="252.4" r="1.25" fill="#cf2a20"/>
<circle cx="265.8" cy="254.3" r="1.25" fill="#cf2a20"/>
<circle cx="275.0" cy="247.5" r="1.25" fill="#cf2a20"/>
<circle cx="258.7" cy="266.5" r="1.25" fill="#cf2a20"/>
<circle cx="264.6" cy="250.7" r="1.25" fill="#151515"/>
<circle cx="272.4" cy="254.8" r="1.25" fill="#cf2a20"/>
<circle cx="259.8" cy="267.9" r="1.25" fill="#cf2a20"/>
<circle cx="262.5" cy="257.7" r="1.25" fill="#cf2a20"/>
<circle cx="260.2" cy="264.9" r="1.25" fill="#cf2a20"/>
<circle cx="241.3" cy="282.4" r="1.25" fill="#cf2a20"/>
<circle cx="257.1" cy="265.8" r="1.25" fill="#cf2a20"/>
<circle cx="260.2" cy="259.7" r="1.25" fill="#cf2a20"/>
<circle cx="226.2" cy="293.6" r="1.25" fill="#cf2a20"/>
<circle cx="242.3" cy="278.7" r="1.25" fill="#cf2a20"/>
<circle cx="280.1" cy="246.5" r="1.25" fill="#cf2a20"/>
<circle cx="276.0" cy="244.5" r="1.25" fill="#151515"/>
<circle cx="251.3" cy="272.8" r="1.25" fill="#cf2a20"/>
<circle cx="265.1" cy="254.0" r="1.25" fill="#cf2a20"/>
<circle cx="261.5" cy="257.6" r="1.25" fill="#cf2a20"/>
<circle cx="211.6" cy="304.0" r="1.25" fill="#cf2a20"/>
<circle cx="232.8" cy="260.5" r="1.25" fill="#151515"/>
<circle cx="281.4" cy="245.0" r="1.25" fill="#cf2a20"/>
<circle cx="278.9" cy="244.8" r="1.25" fill="#cf2a20"/>
<circle cx="269.3" cy="253.7" r="1.25" fill="#cf2a20"/>
<circle cx="255.2" cy="256.6" r="1.25" fill="#151515"/>
<circle cx="260.2" cy="256.4" r="1.25" fill="#151515"/>
<circle cx="236.8" cy="269.7" r="1.25" fill="#151515"/>
<circle cx="263.6" cy="253.8" r="1.25" fill="#cf2a20"/>
<circle cx="251.1" cy="271.9" r="1.25" fill="#cf2a20"/>
<circle cx="256.3" cy="265.1" r="1.25" fill="#cf2a20"/>
<circle cx="224.9" cy="279.0" r="1.25" fill="#cf2a20"/>
<circle cx="249.3" cy="273.9" r="1.25" fill="#cf2a20"/>
<circle cx="278.7" cy="244.6" r="1.25" fill="#151515"/>
<circle cx="251.8" cy="256.8" r="1.25" fill="#151515"/>
<circle cx="264.5" cy="257.2" r="1.25" fill="#cf2a20"/>
<circle cx="218.2" cy="287.0" r="1.25" fill="#cf2a20"/>
<circle cx="238.6" cy="282.0" r="1.25" fill="#cf2a20"/>
<circle cx="268.3" cy="254.6" r="1.25" fill="#cf2a20"/>
<circle cx="264.3" cy="256.6" r="1.25" fill="#cf2a20"/>
<circle cx="255.1" cy="265.5" r="1.25" fill="#cf2a20"/>
<circle cx="251.9" cy="269.4" r="1.25" fill="#cf2a20"/>
<circle cx="228.0" cy="276.0" r="1.25" fill="#cf2a20"/>
<circle cx="257.3" cy="263.7" r="1.25" fill="#cf2a20"/>
<circle cx="238.2" cy="282.2" r="1.25" fill="#cf2a20"/>
<circle cx="257.0" cy="260.5" r="1.25" fill="#cf2a20"/>
<circle cx="262.9" cy="262.7" r="1.25" fill="#cf2a20"/>
<circle cx="253.9" cy="268.3" r="1.25" fill="#cf2a20"/>
<circle cx="260.2" cy="269.9" r="1.25" fill="#cf2a20"/>
<circle cx="260.8" cy="260.1" r="1.25" fill="#cf2a20"/>
<circle cx="264.1" cy="258.3" r="1.25" fill="#cf2a20"/>
<circle cx="241.0" cy="275.7" r="1.25" fill="#cf2a20"/>
<circle cx="248.3" cy="276.7" r="1.25" fill="#cf2a20"/>
<circle cx="255.4" cy="263.6" r="1.25" fill="#cf2a20"/>
<circle cx="262.7" cy="260.1" r="1.25" fill="#cf2a20"/>
<circle cx="279.1" cy="242.3" r="1.25" fill="#cf2a20"/>
<circle cx="275.5" cy="244.3" r="1.25" fill="#cf2a20"/>
<circle cx="273.9" cy="243.8" r="1.25" fill="#151515"/>
<circle cx="276.2" cy="246.3" r="1.25" fill="#151515"/>
<circle cx="247.5" cy="275.7" r="1.25" fill="#cf2a20"/>
<circle cx="266.8" cy="253.1" r="1.25" fill="#cf2a20"/>
<circle cx="258.4" cy="264.3" r="1.25" fill="#cf2a20"/>
<circle cx="259.6" cy="260.4" r="1.25" fill="#cf2a20"/>
<circle cx="256.4" cy="261.8" r="1.25" fill="#cf2a20"/>
<circle cx="261.9" cy="261.4" r="1.25" fill="#cf2a20"/>
<circle cx="267.5" cy="257.3" r="1.25" fill="#cf2a20"/>
<circle cx="276.6" cy="242.8" r="1.25" fill="#151515"/>
<circle cx="268.0" cy="251.6" r="1.25" fill="#cf2a20"/>
<circle cx="259.7" cy="262.4" r="1.25" fill="#cf2a20"/>
<circle cx="256.0" cy="259.2" r="1.25" fill="#cf2a20"/>
<circle cx="244.4" cy="279.3" r="1.25" fill="#cf2a20"/>
<circle cx="257.0" cy="267.2" r="1.25" fill="#cf2a20"/>
<circle cx="270.5" cy="246.3" r="1.25" fill="#cf2a20"/>
<circle cx="277.6" cy="245.1" r="1.25" fill="#cf2a20"/>
<circle cx="261.8" cy="260.0" r="1.25" fill="#cf2a20"/>
<circle cx="266.8" cy="253.2" r="1.25" fill="#cf2a20"/>
<circle cx="270.7" cy="255.3" r="1.25" fill="#cf2a20"/>
<circle cx="274.4" cy="250.5" r="1.25" fill="#cf2a20"/>
<circle cx="258.8" cy="259.3" r="1.25" fill="#cf2a20"/>
<circle cx="260.1" cy="260.0" r="1.25" fill="#cf2a20"/>
<circle cx="270.5" cy="247.6" r="1.25" fill="#cf2a20"/>
<circle cx="260.6" cy="262.3" r="1.25" fill="#cf2a20"/>
<circle cx="254.0" cy="267.5" r="1.25" fill="#cf2a20"/>
<circle cx="281.6" cy="243.4" r="1.25" fill="#cf2a20"/>
<circle cx="258.0" cy="262.1" r="1.25" fill="#cf2a20"/>
<circle cx="275.5" cy="247.5" r="1.25" fill="#cf2a20"/>
<circle cx="248.9" cy="270.2" r="1.25" fill="#cf2a20"/>
<circle cx="255.2" cy="265.2" r="1.25" fill="#cf2a20"/>
<circle cx="248.1" cy="273.3" r="1.25" fill="#cf2a20"/>
<circle cx="253.8" cy="264.9" r="1.25" fill="#cf2a20"/>
<circle cx="266.4" cy="252.7" r="1.25" fill="#cf2a20"/>
<circle cx="260.0" cy="259.0" r="1.25" fill="#cf2a20"/>
<circle cx="257.9" cy="267.7" r="1.25" fill="#cf2a20"/>
<circle cx="251.3" cy="259.4" r="1.25" fill="#151515"/>
<circle cx="258.9" cy="258.1" r="1.25" fill="#cf2a20"/>
<circle cx="313.8" cy="206.0" r="1.25" fill="#cf2a20"/>
<circle cx="257.6" cy="263.2" r="1.25" fill="#cf2a20"/>
<circle cx="267.6" cy="255.9" r="1.25" fill="#cf2a20"/>
<circle cx="252.9" cy="270.4" r="1.25" fill="#cf2a20"/>
<circle cx="274.7" cy="245.9" r="1.25" fill="#cf2a20"/>
<circle cx="246.9" cy="276.1" r="1.25" fill="#cf2a20"/>
<circle cx="274.4" cy="242.5" r="1.25" fill="#151515"/>
<circle cx="255.9" cy="263.4" r="1.25" fill="#cf2a20"/>
<circle cx="263.2" cy="259.1" r="1.25" fill="#cf2a20"/>
<circle cx="243.6" cy="279.7" r="1.25" fill="#cf2a20"/>
<circle cx="275.1" cy="250.4" r="1.25" fill="#cf2a20"/>
<circle cx="250.8" cy="276.3" r="1.25" fill="#cf2a20"/>
<circle cx="274.8" cy="251.0" r="1.25" fill="#cf2a20"/>
<circle cx="262.2" cy="260.6" r="1.25" fill="#cf2a20"/>
<circle cx="272.8" cy="250.0" r="1.25" fill="#cf2a20"/>
<circle cx="278.3" cy="239.4" r="1.25" fill="#151515"/>
<circle cx="258.7" cy="262.3" r="1.25" fill="#cf2a20"/>
<circle cx="262.3" cy="256.3" r="1.25" fill="#cf2a20"/>
<circle cx="262.9" cy="263.5" r="1.25" fill="#cf2a20"/>
<circle cx="257.6" cy="264.3" r="1.25" fill="#cf2a20"/>
<circle cx="258.8" cy="263.1" r="1.25" fill="#cf2a20"/>
<circle cx="277.8" cy="246.4" r="1.25" fill="#cf2a20"/>
<circle cx="259.4" cy="264.5" r="1.25" fill="#cf2a20"/>
<circle cx="251.4" cy="267.4" r="1.25" fill="#cf2a20"/>
<circle cx="270.2" cy="250.3" r="1.25" fill="#cf2a20"/>
<circle cx="258.1" cy="254.2" r="1.25" fill="#151515"/>
<circle cx="257.1" cy="263.3" r="1.25" fill="#cf2a20"/>
<circle cx="211.6" cy="293.6" r="1.25" fill="#151515"/>
<circle cx="239.4" cy="285.6" r="1.25" fill="#cf2a20"/>
<circle cx="216.9" cy="312.0" r="1.25" fill="#cf2a20"/>
<circle cx="260.1" cy="260.1" r="1.25" fill="#cf2a20"/>
<circle cx="256.3" cy="261.8" r="1.25" fill="#cf2a20"/>
<circle cx="279.6" cy="245.9" r="1.25" fill="#cf2a20"/>
<circle cx="256.9" cy="261.7" r="1.25" fill="#cf2a20"/>
<circle cx="243.9" cy="278.6" r="1.25" fill="#cf2a20"/>
<circle cx="273.2" cy="251.6" r="1.25" fill="#cf2a20"/>
<circle cx="251.3" cy="252.5" r="1.25" fill="#151515"/>
<circle cx="211.6" cy="308.0" r="1.25" fill="#cf2a20"/>
<circle cx="250.6" cy="268.2" r="1.25" fill="#cf2a20"/>
<circle cx="242.3" cy="282.6" r="1.25" fill="#cf2a20"/>
<circle cx="263.8" cy="257.5" r="1.25" fill="#cf2a20"/>
<circle cx="252.4" cy="258.5" r="1.25" fill="#151515"/>
<circle cx="254.8" cy="265.9" r="1.25" fill="#cf2a20"/>
<circle cx="256.0" cy="269.8" r="1.25" fill="#cf2a20"/>
<circle cx="269.8" cy="252.9" r="1.25" fill="#cf2a20"/>
<circle cx="271.0" cy="251.9" r="1.25" fill="#cf2a20"/>
<circle cx="259.7" cy="259.1" r="1.25" fill="#cf2a20"/>
<circle cx="255.8" cy="267.1" r="1.25" fill="#cf2a20"/>
<circle cx="274.3" cy="247.5" r="1.25" fill="#cf2a20"/>
<circle cx="261.0" cy="256.7" r="1.25" fill="#cf2a20"/>
<circle cx="265.2" cy="251.1" r="1.25" fill="#cf2a20"/>
<circle cx="274.3" cy="250.8" r="1.25" fill="#cf2a20"/>
<circle cx="275.6" cy="246.4" r="1.25" fill="#cf2a20"/>
<circle cx="259.5" cy="256.0" r="1.25" fill="#cf2a20"/>
<circle cx="276.2" cy="243.5" r="1.25" fill="#cf2a20"/>
<circle cx="259.6" cy="258.1" r="1.25" fill="#cf2a20"/>
<circle cx="280.7" cy="239.8" r="1.25" fill="#151515"/>
<circle cx="255.9" cy="265.6" r="1.25" fill="#cf2a20"/>
<circle cx="260.5" cy="259.0" r="1.25" fill="#cf2a20"/>
<circle cx="277.6" cy="246.4" r="1.25" fill="#cf2a20"/>
<circle cx="272.4" cy="246.2" r="1.25" fill="#151515"/>
<circle cx="262.0" cy="252.4" r="1.25" fill="#151515"/>
<circle cx="244.7" cy="256.5" r="1.25" fill="#151515"/>
<circle cx="235.5" cy="276.3" r="1.25" fill="#151515"/>
<circle cx="265.6" cy="256.2" r="1.25" fill="#cf2a20"/>
<circle cx="268.6" cy="254.3" r="1.25" fill="#cf2a20"/>
<circle cx="262.3" cy="258.8" r="1.25" fill="#cf2a20"/>
<circle cx="264.7" cy="256.5" r="1.25" fill="#cf2a20"/>
<circle cx="264.3" cy="256.5" r="1.25" fill="#cf2a20"/>
<circle cx="264.7" cy="254.3" r="1.25" fill="#cf2a20"/>
<circle cx="262.5" cy="261.0" r="1.25" fill="#cf2a20"/>
<circle cx="272.8" cy="254.7" r="1.25" fill="#cf2a20"/>
<circle cx="270.9" cy="248.5" r="1.25" fill="#cf2a20"/>
<circle cx="262.7" cy="249.7" r="1.25" fill="#151515"/>
<circle cx="273.9" cy="242.9" r="1.25" fill="#151515"/>
<circle cx="272.3" cy="247.5" r="1.25" fill="#cf2a20"/>
<circle cx="244.3" cy="274.8" r="1.25" fill="#cf2a20"/>
<circle cx="246.9" cy="273.1" r="1.25" fill="#cf2a20"/>
<circle cx="240.0" cy="264.0" r="1.25" fill="#151515"/>
<circle cx="267.3" cy="252.4" r="1.25" fill="#cf2a20"/>
<circle cx="246.3" cy="272.4" r="1.25" fill="#cf2a20"/>
<circle cx="250.2" cy="269.8" r="1.25" fill="#cf2a20"/>
<circle cx="259.7" cy="251.6" r="1.25" fill="#151515"/>
<circle cx="273.4" cy="251.0" r="1.25" fill="#cf2a20"/>
<circle cx="271.6" cy="245.5" r="1.25" fill="#151515"/>
<circle cx="277.2" cy="246.4" r="1.25" fill="#cf2a20"/>
<circle cx="248.9" cy="273.8" r="1.25" fill="#cf2a20"/>
<circle cx="247.3" cy="271.4" r="1.25" fill="#cf2a20"/>
<circle cx="266.9" cy="255.9" r="1.25" fill="#cf2a20"/>
<circle cx="266.0" cy="255.9" r="1.25" fill="#cf2a20"/>
<circle cx="255.2" cy="266.7" r="1.25" fill="#cf2a20"/>
<circle cx="270.0" cy="254.3" r="1.25" fill="#cf2a20"/>
<circle cx="258.8" cy="262.6" r="1.25" fill="#cf2a20"/>
<circle cx="260.6" cy="252.8" r="1.25" fill="#151515"/>
<circle cx="263.2" cy="259.9" r="1.25" fill="#cf2a20"/>
<circle cx="254.0" cy="270.8" r="1.25" fill="#cf2a20"/>
<circle cx="255.6" cy="266.3" r="1.25" fill="#cf2a20"/>
<circle cx="270.9" cy="252.0" r="1.25" fill="#cf2a20"/>
<circle cx="256.1" cy="265.1" r="1.25" fill="#cf2a20"/>
<circle cx="277.4" cy="244.7" r="1.25" fill="#cf2a20"/>
<circle cx="257.7" cy="267.0" r="1.25" fill="#cf2a20"/>
<circle cx="258.4" cy="262.7" r="1.25" fill="#cf2a20"/>
<circle cx="268.9" cy="254.5" r="1.25" fill="#cf2a20"/>
<circle cx="269.4" cy="252.0" r="1.25" fill="#cf2a20"/>
<circle cx="271.0" cy="248.0" r="1.25" fill="#cf2a20"/>
<circle cx="260.0" cy="265.2" r="1.25" fill="#cf2a20"/>
<circle cx="270.3" cy="252.5" r="1.25" fill="#cf2a20"/>
<circle cx="265.7" cy="259.4" r="1.25" fill="#cf2a20"/>
<circle cx="278.9" cy="243.7" r="1.25" fill="#cf2a20"/>
<circle cx="273.7" cy="254.2" r="1.25" fill="#cf2a20"/>
<circle cx="261.6" cy="263.9" r="1.25" fill="#cf2a20"/>
<circle cx="281.0" cy="238.5" r="1.25" fill="#151515"/>
<circle cx="252.6" cy="267.5" r="1.25" fill="#cf2a20"/>
<circle cx="259.1" cy="260.3" r="1.25" fill="#cf2a20"/>
<circle cx="249.0" cy="258.0" r="1.25" fill="#151515"/>
<circle cx="258.2" cy="253.4" r="1.25" fill="#151515"/>
<circle cx="263.6" cy="254.8" r="1.25" fill="#cf2a20"/>
<circle cx="255.0" cy="254.0" r="1.25" fill="#151515"/>
<circle cx="267.9" cy="258.9" r="1.25" fill="#cf2a20"/>
<circle cx="249.1" cy="272.9" r="1.25" fill="#cf2a20"/>
<circle cx="274.8" cy="244.4" r="1.25" fill="#cf2a20"/>
<circle cx="269.6" cy="253.9" r="1.25" fill="#cf2a20"/>
<circle cx="256.2" cy="254.8" r="1.25" fill="#151515"/>
<circle cx="219.6" cy="291.0" r="1.25" fill="#cf2a20"/>
<circle cx="259.1" cy="256.6" r="1.25" fill="#cf2a20"/>
<circle cx="265.2" cy="256.7" r="1.25" fill="#cf2a20"/>
<circle cx="273.9" cy="251.5" r="1.25" fill="#cf2a20"/>
<circle cx="261.9" cy="257.9" r="1.25" fill="#cf2a20"/>
<circle cx="250.9" cy="270.5" r="1.25" fill="#cf2a20"/>
<circle cx="258.3" cy="261.3" r="1.25" fill="#cf2a20"/>
<circle cx="260.9" cy="253.0" r="1.25" fill="#151515"/>
<circle cx="267.3" cy="253.1" r="1.25" fill="#cf2a20"/>
<circle cx="266.0" cy="251.7" r="1.25" fill="#151515"/>
<circle cx="276.2" cy="244.6" r="1.25" fill="#cf2a20"/>
<circle cx="255.7" cy="263.2" r="1.25" fill="#cf2a20"/>
<circle cx="277.9" cy="238.8" r="1.25" fill="#151515"/>
<circle cx="226.0" cy="282.0" r="1.25" fill="#151515"/>
<circle cx="270.5" cy="243.3" r="1.25" fill="#151515"/>
<circle cx="270.2" cy="247.0" r="1.25" fill="#151515"/>
<circle cx="259.6" cy="258.3" r="1.25" fill="#cf2a20"/>
<circle cx="256.0" cy="254.6" r="1.25" fill="#151515"/>
<circle cx="271.8" cy="250.5" r="1.25" fill="#cf2a20"/>
<circle cx="239.4" cy="257.8" r="1.25" fill="#151515"/>
<circle cx="266.0" cy="250.2" r="1.25" fill="#151515"/>
<circle cx="271.7" cy="251.6" r="1.25" fill="#cf2a20"/>
<circle cx="263.5" cy="257.2" r="1.25" fill="#cf2a20"/>
<circle cx="231.5" cy="277.7" r="1.25" fill="#151515"/>
<circle cx="279.0" cy="238.4" r="1.25" fill="#151515"/>
<circle cx="266.4" cy="255.7" r="1.25" fill="#cf2a20"/>
<circle cx="276.5" cy="243.4" r="1.25" fill="#cf2a20"/>
<circle cx="279.2" cy="244.4" r="1.25" fill="#cf2a20"/>
<circle cx="258.6" cy="266.2" r="1.25" fill="#cf2a20"/>
<circle cx="254.7" cy="263.6" r="1.25" fill="#cf2a20"/>
<circle cx="271.5" cy="248.5" r="1.25" fill="#cf2a20"/>
<circle cx="264.7" cy="258.1" r="1.25" fill="#cf2a20"/>
<circle cx="276.2" cy="249.2" r="1.25" fill="#cf2a20"/>
<circle cx="242.3" cy="276.9" r="1.25" fill="#cf2a20"/>
<circle cx="248.8" cy="275.2" r="1.25" fill="#cf2a20"/>
<circle cx="240.4" cy="278.5" r="1.25" fill="#cf2a20"/>
<circle cx="273.7" cy="251.9" r="1.25" fill="#cf2a20"/>
<circle cx="262.7" cy="257.9" r="1.25" fill="#cf2a20"/>
<circle cx="276.6" cy="247.8" r="1.25" fill="#cf2a20"/>
<circle cx="259.1" cy="262.0" r="1.25" fill="#cf2a20"/>
<circle cx="258.0" cy="263.1" r="1.25" fill="#cf2a20"/>
<circle cx="261.7" cy="258.6" r="1.25" fill="#cf2a20"/>
<circle cx="226.2" cy="271.0" r="1.25" fill="#cf2a20"/>
<circle cx="245.0" cy="274.2" r="1.25" fill="#cf2a20"/>
<circle cx="265.1" cy="255.2" r="1.25" fill="#cf2a20"/>
<circle cx="267.0" cy="255.0" r="1.25" fill="#cf2a20"/>
<circle cx="263.9" cy="258.6" r="1.25" fill="#cf2a20"/>
<circle cx="260.1" cy="258.1" r="1.25" fill="#cf2a20"/>
<circle cx="260.9" cy="261.7" r="1.25" fill="#cf2a20"/>
<circle cx="247.9" cy="272.9" r="1.25" fill="#cf2a20"/>
<circle cx="240.7" cy="278.6" r="1.25" fill="#cf2a20"/>
<circle cx="259.4" cy="264.5" r="1.25" fill="#cf2a20"/>
<circle cx="263.3" cy="261.4" r="1.25" fill="#cf2a20"/>
<circle cx="276.1" cy="250.8" r="1.25" fill="#cf2a20"/>
<circle cx="272.2" cy="247.8" r="1.25" fill="#151515"/>
<circle cx="256.0" cy="267.1" r="1.25" fill="#cf2a20"/>
<circle cx="273.4" cy="249.5" r="1.25" fill="#cf2a20"/>
<circle cx="276.6" cy="240.4" r="1.25" fill="#151515"/>
<circle cx="258.6" cy="265.4" r="1.25" fill="#cf2a20"/>
<circle cx="273.5" cy="244.0" r="1.25" fill="#151515"/>
<circle cx="255.8" cy="265.9" r="1.25" fill="#cf2a20"/>
<circle cx="251.6" cy="271.5" r="1.25" fill="#cf2a20"/>
<circle cx="260.6" cy="255.3" r="1.25" fill="#151515"/>
<circle cx="274.5" cy="248.0" r="1.25" fill="#cf2a20"/>
<circle cx="270.8" cy="258.0" r="1.25" fill="#cf2a20"/>
<circle cx="242.0" cy="269.7" r="1.25" fill="#151515"/>
<circle cx="249.8" cy="275.5" r="1.25" fill="#cf2a20"/>
<circle cx="268.8" cy="254.4" r="1.25" fill="#cf2a20"/>
<circle cx="278.0" cy="239.8" r="1.25" fill="#cf2a20"/>
<circle cx="273.2" cy="256.3" r="1.25" fill="#cf2a20"/>
<circle cx="270.0" cy="255.3" r="1.25" fill="#cf2a20"/>
<circle cx="265.5" cy="248.8" r="1.25" fill="#151515"/>
<circle cx="257.8" cy="255.9" r="1.25" fill="#cf2a20"/>
<circle cx="255.4" cy="263.2" r="1.25" fill="#cf2a20"/>
<circle cx="246.3" cy="272.7" r="1.25" fill="#cf2a20"/>
<circle cx="266.6" cy="253.3" r="1.25" fill="#cf2a20"/>
<circle cx="243.5" cy="277.5" r="1.25" fill="#cf2a20"/>
<circle cx="278.6" cy="244.6" r="1.25" fill="#cf2a20"/>
<circle cx="251.7" cy="270.3" r="1.25" fill="#cf2a20"/>
<circle cx="261.4" cy="253.5" r="1.25" fill="#151515"/>
<circle cx="255.5" cy="264.9" r="1.25" fill="#cf2a20"/>
<circle cx="254.1" cy="256.1" r="1.25" fill="#151515"/>
<circle cx="266.7" cy="257.5" r="1.25" fill="#cf2a20"/>
<circle cx="264.9" cy="257.2" r="1.25" fill="#cf2a20"/>
<circle cx="260.3" cy="254.0" r="1.25" fill="#151515"/>
<circle cx="273.3" cy="249.8" r="1.25" fill="#cf2a20"/>
<circle cx="262.0" cy="261.7" r="1.25" fill="#cf2a20"/>
<circle cx="271.4" cy="248.1" r="1.25" fill="#151515"/>
<circle cx="230.2" cy="289.6" r="1.25" fill="#cf2a20"/>
<circle cx="236.8" cy="284.3" r="1.25" fill="#cf2a20"/>
<circle cx="230.2" cy="273.7" r="1.25" fill="#151515"/>
<circle cx="255.1" cy="257.2" r="1.25" fill="#151515"/>
<circle cx="275.1" cy="242.5" r="1.25" fill="#151515"/>
<circle cx="262.4" cy="251.1" r="1.25" fill="#151515"/>
<circle cx="268.4" cy="252.4" r="1.25" fill="#cf2a20"/>
<circle cx="268.3" cy="255.3" r="1.25" fill="#cf2a20"/>
<circle cx="244.1" cy="282.3" r="1.25" fill="#cf2a20"/>
<circle cx="264.9" cy="256.0" r="1.25" fill="#cf2a20"/>
<circle cx="228.8" cy="259.0" r="1.25" fill="#151515"/>
<circle cx="264.0" cy="261.0" r="1.25" fill="#cf2a20"/>
<circle cx="265.9" cy="254.3" r="1.25" fill="#cf2a20"/>
<circle cx="247.4" cy="261.8" r="1.25" fill="#151515"/>
<circle cx="274.8" cy="246.4" r="1.25" fill="#cf2a20"/>
<circle cx="266.9" cy="252.6" r="1.25" fill="#151515"/>
<circle cx="267.2" cy="252.1" r="1.25" fill="#cf2a20"/>
<circle cx="237.1" cy="274.4" r="1.25" fill="#cf2a20"/>
<circle cx="252.9" cy="257.7" r="1.25" fill="#151515"/>
<circle cx="252.6" cy="274.3" r="1.25" fill="#cf2a20"/>
<circle cx="249.0" cy="270.7" r="1.25" fill="#cf2a20"/>
<circle cx="263.6" cy="259.3" r="1.25" fill="#cf2a20"/>
<circle cx="270.3" cy="247.8" r="1.25" fill="#151515"/>
<circle cx="251.3" cy="272.2" r="1.25" fill="#cf2a20"/>
<circle cx="257.0" cy="267.2" r="1.25" fill="#cf2a20"/>
<circle cx="259.4" cy="260.1" r="1.25" fill="#cf2a20"/>
<circle cx="255.7" cy="255.2" r="1.25" fill="#151515"/>
<circle cx="264.8" cy="258.1" r="1.25" fill="#cf2a20"/>
<circle cx="262.6" cy="256.6" r="1.25" fill="#cf2a20"/>
<circle cx="260.3" cy="262.9" r="1.25" fill="#cf2a20"/>
<circle cx="257.1" cy="267.3" r="1.25" fill="#cf2a20"/>
<circle cx="273.9" cy="248.7" r="1.25" fill="#cf2a20"/>
<circle cx="244.0" cy="276.0" r="1.25" fill="#cf2a20"/>
<circle cx="260.7" cy="252.9" r="1.25" fill="#151515"/>
<circle cx="251.0" cy="270.1" r="1.25" fill="#cf2a20"/>
<circle cx="264.9" cy="260.9" r="1.25" fill="#cf2a20"/>
<circle cx="255.8" cy="264.8" r="1.25" fill="#cf2a20"/>
<circle cx="257.1" cy="263.4" r="1.25" fill="#cf2a20"/>
<circle cx="231.5" cy="283.0" r="1.25" fill="#cf2a20"/>
<rect x="195.6" y="191.2" width="140.60" height="126.30" class="bxl"/>
<line x1="200.40" y1="317.5" x2="200.40" y2="319.7" class="tkl"/>
<text x="201.20" y="327.3" text-anchor="middle" class="tk">4</text>
<line x1="226.80" y1="317.5" x2="226.80" y2="319.7" class="tkl"/>
<text x="227.60" y="327.3" text-anchor="middle" class="tk">6</text>
<line x1="253.20" y1="317.5" x2="253.20" y2="319.7" class="tkl"/>
<text x="254.00" y="327.3" text-anchor="middle" class="tk">8</text>
<line x1="279.60" y1="317.5" x2="279.60" y2="319.7" class="tkl"/>
<text x="280.40" y="327.3" text-anchor="middle" class="tk">10</text>
<line x1="306.00" y1="317.5" x2="306.00" y2="319.7" class="tkl"/>
<text x="306.80" y="327.3" text-anchor="middle" class="tk">12</text>
<line x1="332.40" y1="317.5" x2="332.40" y2="319.7" class="tkl"/>
<text x="333.20" y="327.3" text-anchor="middle" class="tk">14</text>
<line x1="193.4" y1="313.20" x2="195.6" y2="313.20" class="tkl"/>
<text transform="translate(189.80,313.80) rotate(-90)" text-anchor="start" class="tk">4</text>
<line x1="193.4" y1="287.20" x2="195.6" y2="287.20" class="tkl"/>
<text transform="translate(189.80,287.80) rotate(-90)" text-anchor="start" class="tk">6</text>
<line x1="193.4" y1="261.20" x2="195.6" y2="261.20" class="tkl"/>
<text transform="translate(189.80,261.80) rotate(-90)" text-anchor="start" class="tk">8</text>
<line x1="193.4" y1="235.20" x2="195.6" y2="235.20" class="tkl"/>
<text transform="translate(189.80,235.80) rotate(-90)" text-anchor="start" class="tk">10</text>
<line x1="193.4" y1="209.20" x2="195.6" y2="209.20" class="tkl"/>
<text transform="translate(189.80,209.80) rotate(-90)" text-anchor="start" class="tk">12</text>
<text transform="translate(180.0,250.0) rotate(-90)" text-anchor="middle" class="al">CD137 standard Affy</text><line x1="379.70" y1="191.2" x2="379.70" y2="317.4" class="g"/>
<line x1="403.42" y1="191.2" x2="403.42" y2="317.4" class="g"/>
<line x1="427.14" y1="191.2" x2="427.14" y2="317.4" class="g"/>
<line x1="450.86" y1="191.2" x2="450.86" y2="317.4" class="g"/>
<line x1="474.58" y1="191.2" x2="474.58" y2="317.4" class="g"/>
<line x1="498.30" y1="191.2" x2="498.30" y2="317.4" class="g"/>
<line x1="362.5" y1="201.55" x2="503.5" y2="201.55" class="g"/>
<line x1="362.5" y1="224.45" x2="503.5" y2="224.45" class="g"/>
<line x1="362.5" y1="247.35" x2="503.5" y2="247.35" class="g"/>
<line x1="362.5" y1="270.25" x2="503.5" y2="270.25" class="g"/>
<line x1="362.5" y1="293.15" x2="503.5" y2="293.15" class="g"/>
<line x1="362.5" y1="316.05" x2="503.5" y2="316.05" class="g"/>
<circle cx="446.1" cy="264.9" r="1.25" fill="#151515"/>
<circle cx="428.2" cy="272.1" r="1.25" fill="#151515"/>
<circle cx="442.0" cy="236.6" r="1.25" fill="#cf2a20"/>
<circle cx="435.4" cy="270.5" r="1.25" fill="#cf2a20"/>
<circle cx="399.1" cy="277.8" r="1.25" fill="#cf2a20"/>
<circle cx="443.8" cy="264.3" r="1.25" fill="#cf2a20"/>
<circle cx="412.1" cy="270.7" r="1.25" fill="#cf2a20"/>
<circle cx="428.1" cy="269.1" r="1.25" fill="#cf2a20"/>
<circle cx="408.5" cy="271.1" r="1.25" fill="#151515"/>
<circle cx="419.7" cy="267.8" r="1.25" fill="#151515"/>
<circle cx="424.4" cy="267.5" r="1.25" fill="#cf2a20"/>
<circle cx="413.1" cy="273.8" r="1.25" fill="#cf2a20"/>
<circle cx="450.9" cy="236.6" r="1.25" fill="#151515"/>
<circle cx="422.3" cy="272.7" r="1.25" fill="#cf2a20"/>
<circle cx="431.0" cy="225.0" r="1.25" fill="#151515"/>
<circle cx="436.1" cy="253.7" r="1.25" fill="#cf2a20"/>
<circle cx="399.4" cy="276.0" r="1.25" fill="#cf2a20"/>
<circle cx="451.1" cy="246.0" r="1.25" fill="#cf2a20"/>
<circle cx="438.3" cy="265.3" r="1.25" fill="#151515"/>
<circle cx="404.7" cy="272.7" r="1.25" fill="#cf2a20"/>
<circle cx="431.5" cy="259.5" r="1.25" fill="#cf2a20"/>
<circle cx="397.3" cy="271.0" r="1.25" fill="#151515"/>
<circle cx="450.0" cy="265.4" r="1.25" fill="#cf2a20"/>
<circle cx="448.3" cy="240.5" r="1.25" fill="#151515"/>
<circle cx="433.1" cy="251.2" r="1.25" fill="#cf2a20"/>
<circle cx="407.7" cy="285.4" r="1.25" fill="#cf2a20"/>
<circle cx="415.3" cy="269.9" r="1.25" fill="#151515"/>
<circle cx="416.4" cy="272.4" r="1.25" fill="#cf2a20"/>
<circle cx="414.5" cy="269.2" r="1.25" fill="#151515"/>
<circle cx="404.0" cy="276.2" r="1.25" fill="#cf2a20"/>
<circle cx="423.4" cy="267.2" r="1.25" fill="#151515"/>
<circle cx="404.7" cy="267.2" r="1.25" fill="#cf2a20"/>
<circle cx="422.1" cy="271.1" r="1.25" fill="#cf2a20"/>
<circle cx="421.4" cy="258.8" r="1.25" fill="#cf2a20"/>
<circle cx="402.3" cy="281.9" r="1.25" fill="#cf2a20"/>
<circle cx="391.7" cy="287.8" r="1.25" fill="#cf2a20"/>
<circle cx="420.0" cy="280.6" r="1.25" fill="#cf2a20"/>
<circle cx="417.6" cy="276.6" r="1.25" fill="#cf2a20"/>
<circle cx="443.6" cy="253.9" r="1.25" fill="#151515"/>
<circle cx="422.9" cy="271.3" r="1.25" fill="#cf2a20"/>
<circle cx="399.8" cy="280.3" r="1.25" fill="#cf2a20"/>
<circle cx="420.8" cy="272.1" r="1.25" fill="#cf2a20"/>
<circle cx="424.2" cy="263.7" r="1.25" fill="#151515"/>
<circle cx="397.9" cy="277.7" r="1.25" fill="#151515"/>
<circle cx="472.6" cy="195.0" r="1.25" fill="#cf2a20"/>
<circle cx="438.3" cy="253.4" r="1.25" fill="#cf2a20"/>
<circle cx="423.6" cy="264.1" r="1.25" fill="#151515"/>
<circle cx="398.4" cy="270.2" r="1.25" fill="#cf2a20"/>
<circle cx="438.1" cy="261.8" r="1.25" fill="#cf2a20"/>
<circle cx="404.8" cy="273.5" r="1.25" fill="#cf2a20"/>
<circle cx="428.0" cy="267.3" r="1.25" fill="#cf2a20"/>
<circle cx="424.2" cy="258.3" r="1.25" fill="#cf2a20"/>
<circle cx="398.9" cy="270.4" r="1.25" fill="#151515"/>
<circle cx="418.7" cy="266.7" r="1.25" fill="#cf2a20"/>
<circle cx="406.0" cy="279.6" r="1.25" fill="#cf2a20"/>
<circle cx="388.7" cy="278.7" r="1.25" fill="#151515"/>
<circle cx="436.5" cy="263.3" r="1.25" fill="#cf2a20"/>
<circle cx="409.5" cy="280.3" r="1.25" fill="#cf2a20"/>
<circle cx="435.2" cy="265.8" r="1.25" fill="#cf2a20"/>
<circle cx="428.3" cy="260.0" r="1.25" fill="#151515"/>
<circle cx="424.6" cy="267.1" r="1.25" fill="#cf2a20"/>
<circle cx="405.7" cy="272.2" r="1.25" fill="#cf2a20"/>
<circle cx="394.9" cy="281.1" r="1.25" fill="#cf2a20"/>
<circle cx="410.6" cy="270.8" r="1.25" fill="#151515"/>
<circle cx="405.1" cy="279.5" r="1.25" fill="#cf2a20"/>
<circle cx="456.0" cy="236.0" r="1.25" fill="#cf2a20"/>
<circle cx="412.3" cy="280.8" r="1.25" fill="#cf2a20"/>
<circle cx="391.5" cy="280.5" r="1.25" fill="#cf2a20"/>
<circle cx="397.9" cy="284.2" r="1.25" fill="#cf2a20"/>
<circle cx="410.4" cy="268.5" r="1.25" fill="#cf2a20"/>
<circle cx="409.0" cy="252.0" r="1.25" fill="#151515"/>
<circle cx="402.6" cy="267.2" r="1.25" fill="#cf2a20"/>
<circle cx="473.6" cy="217.0" r="1.25" fill="#cf2a20"/>
<circle cx="442.5" cy="256.6" r="1.25" fill="#cf2a20"/>
<circle cx="459.4" cy="249.7" r="1.25" fill="#151515"/>
<circle cx="425.5" cy="265.1" r="1.25" fill="#cf2a20"/>
<circle cx="427.5" cy="263.2" r="1.25" fill="#cf2a20"/>
<circle cx="428.4" cy="278.5" r="1.25" fill="#cf2a20"/>
<circle cx="428.0" cy="236.6" r="1.25" fill="#cf2a20"/>
<circle cx="416.5" cy="268.2" r="1.25" fill="#cf2a20"/>
<circle cx="413.0" cy="245.4" r="1.25" fill="#cf2a20"/>
<circle cx="448.0" cy="257.5" r="1.25" fill="#151515"/>
<circle cx="461.0" cy="220.0" r="1.25" fill="#cf2a20"/>
<circle cx="434.5" cy="256.5" r="1.25" fill="#151515"/>
<circle cx="414.1" cy="278.4" r="1.25" fill="#cf2a20"/>
<circle cx="424.0" cy="263.6" r="1.25" fill="#cf2a20"/>
<circle cx="429.2" cy="275.4" r="1.25" fill="#cf2a20"/>
<circle cx="416.5" cy="264.2" r="1.25" fill="#cf2a20"/>
<circle cx="430.3" cy="265.2" r="1.25" fill="#cf2a20"/>
<circle cx="449.3" cy="254.0" r="1.25" fill="#cf2a20"/>
<circle cx="396.2" cy="278.8" r="1.25" fill="#cf2a20"/>
<circle cx="455.8" cy="264.3" r="1.25" fill="#cf2a20"/>
<circle cx="405.5" cy="275.0" r="1.25" fill="#cf2a20"/>
<circle cx="420.0" cy="243.4" r="1.25" fill="#151515"/>
<circle cx="422.7" cy="267.3" r="1.25" fill="#151515"/>
<circle cx="394.6" cy="276.6" r="1.25" fill="#cf2a20"/>
<circle cx="432.1" cy="272.2" r="1.25" fill="#cf2a20"/>
<circle cx="401.3" cy="277.8" r="1.25" fill="#cf2a20"/>
<circle cx="426.8" cy="260.1" r="1.25" fill="#151515"/>
<circle cx="414.4" cy="277.3" r="1.25" fill="#cf2a20"/>
<circle cx="465.6" cy="247.4" r="1.25" fill="#cf2a20"/>
<circle cx="395.3" cy="276.6" r="1.25" fill="#cf2a20"/>
<circle cx="402.4" cy="282.5" r="1.25" fill="#151515"/>
<circle cx="417.5" cy="273.0" r="1.25" fill="#cf2a20"/>
<circle cx="399.5" cy="270.8" r="1.25" fill="#cf2a20"/>
<circle cx="400.3" cy="271.5" r="1.25" fill="#cf2a20"/>
<circle cx="392.0" cy="277.3" r="1.25" fill="#cf2a20"/>
<circle cx="411.4" cy="275.6" r="1.25" fill="#151515"/>
<circle cx="430.9" cy="273.6" r="1.25" fill="#151515"/>
<circle cx="448.0" cy="236.0" r="1.25" fill="#151515"/>
<circle cx="413.7" cy="277.1" r="1.25" fill="#cf2a20"/>
<circle cx="420.0" cy="273.4" r="1.25" fill="#151515"/>
<circle cx="396.7" cy="283.9" r="1.25" fill="#cf2a20"/>
<circle cx="407.1" cy="271.9" r="1.25" fill="#cf2a20"/>
<circle cx="480.0" cy="212.0" r="1.25" fill="#cf2a20"/>
<circle cx="413.6" cy="272.6" r="1.25" fill="#151515"/>
<circle cx="393.1" cy="279.3" r="1.25" fill="#cf2a20"/>
<circle cx="416.7" cy="266.7" r="1.25" fill="#cf2a20"/>
<circle cx="410.9" cy="273.4" r="1.25" fill="#cf2a20"/>
<circle cx="411.0" cy="286.3" r="1.25" fill="#cf2a20"/>
<circle cx="428.6" cy="265.0" r="1.25" fill="#cf2a20"/>
<circle cx="407.4" cy="261.1" r="1.25" fill="#151515"/>
<circle cx="393.8" cy="278.0" r="1.25" fill="#cf2a20"/>
<circle cx="403.1" cy="273.0" r="1.25" fill="#151515"/>
<circle cx="415.8" cy="275.9" r="1.25" fill="#cf2a20"/>
<circle cx="404.5" cy="269.3" r="1.25" fill="#cf2a20"/>
<circle cx="428.0" cy="270.3" r="1.25" fill="#cf2a20"/>
<circle cx="413.5" cy="273.2" r="1.25" fill="#cf2a20"/>
<circle cx="498.0" cy="199.4" r="1.25" fill="#cf2a20"/>
<circle cx="426.4" cy="271.0" r="1.25" fill="#cf2a20"/>
<circle cx="438.8" cy="254.9" r="1.25" fill="#cf2a20"/>
<circle cx="413.8" cy="267.0" r="1.25" fill="#cf2a20"/>
<circle cx="430.8" cy="260.6" r="1.25" fill="#151515"/>
<circle cx="413.8" cy="271.7" r="1.25" fill="#cf2a20"/>
<circle cx="399.9" cy="272.6" r="1.25" fill="#151515"/>
<circle cx="431.1" cy="264.1" r="1.25" fill="#cf2a20"/>
<circle cx="446.8" cy="248.3" r="1.25" fill="#151515"/>
<circle cx="419.5" cy="268.8" r="1.25" fill="#cf2a20"/>
<circle cx="445.0" cy="236.6" r="1.25" fill="#151515"/>
<circle cx="435.4" cy="263.2" r="1.25" fill="#cf2a20"/>
<circle cx="402.1" cy="275.9" r="1.25" fill="#cf2a20"/>
<circle cx="427.1" cy="260.7" r="1.25" fill="#cf2a20"/>
<circle cx="436.8" cy="256.2" r="1.25" fill="#cf2a20"/>
<circle cx="423.1" cy="269.1" r="1.25" fill="#cf2a20"/>
<circle cx="402.3" cy="277.0" r="1.25" fill="#cf2a20"/>
<circle cx="417.0" cy="219.6" r="1.25" fill="#151515"/>
<circle cx="400.1" cy="272.5" r="1.25" fill="#151515"/>
<circle cx="406.5" cy="267.5" r="1.25" fill="#cf2a20"/>
<circle cx="450.3" cy="261.2" r="1.25" fill="#151515"/>
<circle cx="466.0" cy="247.0" r="1.25" fill="#cf2a20"/>
<circle cx="412.1" cy="270.1" r="1.25" fill="#151515"/>
<circle cx="422.2" cy="269.7" r="1.25" fill="#cf2a20"/>
<circle cx="419.4" cy="268.7" r="1.25" fill="#cf2a20"/>
<circle cx="421.7" cy="262.6" r="1.25" fill="#151515"/>
<circle cx="403.5" cy="270.1" r="1.25" fill="#cf2a20"/>
<circle cx="432.3" cy="258.7" r="1.25" fill="#cf2a20"/>
<circle cx="425.7" cy="268.3" r="1.25" fill="#cf2a20"/>
<circle cx="414.2" cy="273.9" r="1.25" fill="#151515"/>
<circle cx="413.9" cy="269.8" r="1.25" fill="#cf2a20"/>
<circle cx="415.9" cy="260.8" r="1.25" fill="#151515"/>
<circle cx="435.9" cy="257.2" r="1.25" fill="#cf2a20"/>
<circle cx="462.0" cy="251.5" r="1.25" fill="#151515"/>
<circle cx="400.7" cy="276.8" r="1.25" fill="#cf2a20"/>
<circle cx="436.0" cy="242.0" r="1.25" fill="#cf2a20"/>
<circle cx="443.6" cy="238.6" r="1.25" fill="#151515"/>
<circle cx="435.2" cy="259.4" r="1.25" fill="#151515"/>
<circle cx="448.8" cy="272.6" r="1.25" fill="#151515"/>
<circle cx="430.0" cy="244.0" r="1.25" fill="#151515"/>
<circle cx="413.0" cy="271.6" r="1.25" fill="#cf2a20"/>
<circle cx="483.6" cy="205.0" r="1.25" fill="#151515"/>
<circle cx="424.4" cy="267.2" r="1.25" fill="#151515"/>
<circle cx="404.8" cy="274.3" r="1.25" fill="#cf2a20"/>
<circle cx="432.0" cy="274.9" r="1.25" fill="#cf2a20"/>
<circle cx="417.5" cy="265.7" r="1.25" fill="#cf2a20"/>
<circle cx="428.0" cy="268.4" r="1.25" fill="#151515"/>
<circle cx="401.2" cy="278.7" r="1.25" fill="#cf2a20"/>
<circle cx="442.0" cy="261.0" r="1.25" fill="#cf2a20"/>
<circle cx="414.7" cy="274.4" r="1.25" fill="#cf2a20"/>
<circle cx="394.0" cy="274.9" r="1.25" fill="#cf2a20"/>
<circle cx="411.2" cy="273.1" r="1.25" fill="#cf2a20"/>
<circle cx="425.0" cy="246.0" r="1.25" fill="#cf2a20"/>
<circle cx="391.2" cy="287.4" r="1.25" fill="#151515"/>
<circle cx="434.4" cy="264.3" r="1.25" fill="#cf2a20"/>
<circle cx="438.5" cy="247.8" r="1.25" fill="#151515"/>
<circle cx="423.9" cy="267.0" r="1.25" fill="#cf2a20"/>
<circle cx="447.7" cy="242.1" r="1.25" fill="#151515"/>
<circle cx="405.5" cy="273.6" r="1.25" fill="#151515"/>
<circle cx="399.7" cy="278.7" r="1.25" fill="#cf2a20"/>
<circle cx="460.2" cy="238.3" r="1.25" fill="#151515"/>
<circle cx="396.8" cy="281.6" r="1.25" fill="#151515"/>
<circle cx="409.1" cy="274.2" r="1.25" fill="#cf2a20"/>
<circle cx="396.4" cy="276.7" r="1.25" fill="#151515"/>
<circle cx="443.9" cy="263.9" r="1.25" fill="#151515"/>
<circle cx="460.0" cy="247.4" r="1.25" fill="#151515"/>
<circle cx="439.8" cy="254.4" r="1.25" fill="#cf2a20"/>
<circle cx="451.6" cy="256.0" r="1.25" fill="#cf2a20"/>
<circle cx="399.8" cy="275.4" r="1.25" fill="#cf2a20"/>
<circle cx="400.7" cy="259.5" r="1.25" fill="#151515"/>
<circle cx="404.8" cy="275.0" r="1.25" fill="#cf2a20"/>
<circle cx="394.1" cy="276.5" r="1.25" fill="#cf2a20"/>
<circle cx="430.5" cy="267.0" r="1.25" fill="#151515"/>
<circle cx="403.4" cy="279.1" r="1.25" fill="#cf2a20"/>
<circle cx="432.5" cy="265.8" r="1.25" fill="#cf2a20"/>
<circle cx="425.4" cy="254.9" r="1.25" fill="#cf2a20"/>
<circle cx="420.5" cy="260.8" r="1.25" fill="#cf2a20"/>
<circle cx="400.4" cy="274.7" r="1.25" fill="#cf2a20"/>
<circle cx="406.7" cy="277.0" r="1.25" fill="#cf2a20"/>
<circle cx="396.6" cy="273.4" r="1.25" fill="#151515"/>
<circle cx="399.1" cy="275.9" r="1.25" fill="#cf2a20"/>
<circle cx="393.4" cy="273.0" r="1.25" fill="#151515"/>
<circle cx="415.3" cy="276.4" r="1.25" fill="#cf2a20"/>
<circle cx="464.0" cy="205.4" r="1.25" fill="#151515"/>
<circle cx="404.8" cy="272.9" r="1.25" fill="#151515"/>
<circle cx="408.8" cy="278.3" r="1.25" fill="#cf2a20"/>
<circle cx="419.6" cy="259.6" r="1.25" fill="#151515"/>
<circle cx="443.7" cy="259.2" r="1.25" fill="#cf2a20"/>
<circle cx="410.2" cy="274.5" r="1.25" fill="#cf2a20"/>
<circle cx="406.0" cy="273.9" r="1.25" fill="#cf2a20"/>
<circle cx="429.1" cy="271.7" r="1.25" fill="#cf2a20"/>
<circle cx="418.8" cy="261.6" r="1.25" fill="#cf2a20"/>
<circle cx="424.7" cy="275.2" r="1.25" fill="#cf2a20"/>
<circle cx="447.0" cy="261.2" r="1.25" fill="#cf2a20"/>
<circle cx="438.5" cy="257.7" r="1.25" fill="#cf2a20"/>
<circle cx="402.2" cy="283.5" r="1.25" fill="#cf2a20"/>
<circle cx="449.8" cy="231.6" r="1.25" fill="#151515"/>
<circle cx="445.5" cy="252.4" r="1.25" fill="#cf2a20"/>
<circle cx="420.7" cy="262.1" r="1.25" fill="#cf2a20"/>
<circle cx="366.5" cy="312.2" r="1.25" fill="#cf2a20"/>
<circle cx="394.3" cy="275.3" r="1.25" fill="#cf2a20"/>
<circle cx="423.5" cy="262.5" r="1.25" fill="#cf2a20"/>
<circle cx="456.0" cy="238.0" r="1.25" fill="#151515"/>
<circle cx="406.4" cy="265.2" r="1.25" fill="#cf2a20"/>
<circle cx="436.8" cy="260.7" r="1.25" fill="#cf2a20"/>
<circle cx="421.1" cy="269.0" r="1.25" fill="#cf2a20"/>
<circle cx="418.1" cy="266.1" r="1.25" fill="#cf2a20"/>
<circle cx="433.4" cy="265.3" r="1.25" fill="#cf2a20"/>
<circle cx="393.8" cy="275.5" r="1.25" fill="#151515"/>
<circle cx="428.2" cy="257.0" r="1.25" fill="#151515"/>
<circle cx="425.8" cy="273.8" r="1.25" fill="#cf2a20"/>
<circle cx="450.4" cy="256.0" r="1.25" fill="#cf2a20"/>
<circle cx="404.5" cy="275.8" r="1.25" fill="#cf2a20"/>
<circle cx="408.8" cy="268.0" r="1.25" fill="#151515"/>
<circle cx="442.8" cy="252.9" r="1.25" fill="#cf2a20"/>
<circle cx="402.2" cy="274.1" r="1.25" fill="#cf2a20"/>
<circle cx="396.8" cy="273.0" r="1.25" fill="#151515"/>
<circle cx="440.9" cy="259.0" r="1.25" fill="#cf2a20"/>
<circle cx="438.0" cy="232.0" r="1.25" fill="#cf2a20"/>
<circle cx="406.5" cy="273.1" r="1.25" fill="#151515"/>
<circle cx="428.6" cy="274.9" r="1.25" fill="#cf2a20"/>
<circle cx="408.2" cy="283.5" r="1.25" fill="#cf2a20"/>
<circle cx="448.0" cy="263.2" r="1.25" fill="#cf2a20"/>
<circle cx="428.9" cy="260.3" r="1.25" fill="#151515"/>
<circle cx="440.0" cy="223.4" r="1.25" fill="#cf2a20"/>
<circle cx="427.0" cy="260.9" r="1.25" fill="#cf2a20"/>
<circle cx="411.5" cy="267.3" r="1.25" fill="#cf2a20"/>
<circle cx="403.8" cy="276.0" r="1.25" fill="#cf2a20"/>
<circle cx="404.9" cy="278.6" r="1.25" fill="#151515"/>
<circle cx="401.4" cy="280.1" r="1.25" fill="#cf2a20"/>
<circle cx="442.8" cy="254.1" r="1.25" fill="#cf2a20"/>
<circle cx="408.1" cy="272.9" r="1.25" fill="#cf2a20"/>
<circle cx="389.0" cy="283.0" r="1.25" fill="#151515"/>
<circle cx="410.9" cy="273.4" r="1.25" fill="#151515"/>
<circle cx="413.2" cy="268.2" r="1.25" fill="#cf2a20"/>
<circle cx="419.0" cy="265.2" r="1.25" fill="#cf2a20"/>
<circle cx="413.4" cy="269.8" r="1.25" fill="#cf2a20"/>
<circle cx="425.2" cy="259.9" r="1.25" fill="#151515"/>
<circle cx="440.2" cy="254.9" r="1.25" fill="#151515"/>
<circle cx="436.9" cy="257.9" r="1.25" fill="#cf2a20"/>
<circle cx="390.4" cy="277.0" r="1.25" fill="#cf2a20"/>
<circle cx="403.6" cy="280.7" r="1.25" fill="#cf2a20"/>
<circle cx="432.8" cy="267.9" r="1.25" fill="#cf2a20"/>
<circle cx="408.7" cy="272.5" r="1.25" fill="#cf2a20"/>
<circle cx="409.2" cy="273.6" r="1.25" fill="#cf2a20"/>
<circle cx="418.2" cy="262.4" r="1.25" fill="#cf2a20"/>
<circle cx="441.8" cy="254.2" r="1.25" fill="#cf2a20"/>
<circle cx="413.9" cy="272.0" r="1.25" fill="#cf2a20"/>
<circle cx="405.7" cy="274.9" r="1.25" fill="#cf2a20"/>
<circle cx="407.7" cy="274.5" r="1.25" fill="#cf2a20"/>
<circle cx="410.9" cy="268.0" r="1.25" fill="#151515"/>
<circle cx="408.0" cy="269.6" r="1.25" fill="#151515"/>
<circle cx="439.7" cy="257.6" r="1.25" fill="#cf2a20"/>
<circle cx="437.0" cy="260.2" r="1.25" fill="#cf2a20"/>
<circle cx="453.0" cy="240.6" r="1.25" fill="#cf2a20"/>
<circle cx="410.3" cy="272.0" r="1.25" fill="#cf2a20"/>
<circle cx="440.6" cy="212.0" r="1.25" fill="#151515"/>
<circle cx="412.8" cy="271.5" r="1.25" fill="#cf2a20"/>
<circle cx="425.7" cy="261.3" r="1.25" fill="#cf2a20"/>
<circle cx="410.6" cy="264.2" r="1.25" fill="#cf2a20"/>
<circle cx="450.3" cy="250.4" r="1.25" fill="#cf2a20"/>
<circle cx="394.5" cy="278.2" r="1.25" fill="#cf2a20"/>
<circle cx="417.0" cy="250.0" r="1.25" fill="#cf2a20"/>
<circle cx="427.4" cy="216.0" r="1.25" fill="#151515"/>
<circle cx="398.3" cy="269.1" r="1.25" fill="#cf2a20"/>
<circle cx="444.3" cy="258.7" r="1.25" fill="#cf2a20"/>
<circle cx="402.4" cy="245.4" r="1.25" fill="#151515"/>
<circle cx="427.5" cy="257.4" r="1.25" fill="#cf2a20"/>
<circle cx="412.0" cy="280.2" r="1.25" fill="#cf2a20"/>
<circle cx="423.4" cy="267.2" r="1.25" fill="#151515"/>
<circle cx="411.0" cy="257.3" r="1.25" fill="#cf2a20"/>
<circle cx="398.3" cy="276.3" r="1.25" fill="#cf2a20"/>
<circle cx="405.5" cy="282.6" r="1.25" fill="#cf2a20"/>
<circle cx="418.6" cy="269.2" r="1.25" fill="#cf2a20"/>
<circle cx="420.7" cy="271.7" r="1.25" fill="#cf2a20"/>
<circle cx="460.8" cy="252.6" r="1.25" fill="#cf2a20"/>
<circle cx="403.9" cy="280.5" r="1.25" fill="#cf2a20"/>
<circle cx="418.0" cy="268.2" r="1.25" fill="#cf2a20"/>
<circle cx="391.2" cy="288.4" r="1.25" fill="#cf2a20"/>
<circle cx="441.1" cy="263.3" r="1.25" fill="#cf2a20"/>
<circle cx="398.6" cy="274.7" r="1.25" fill="#cf2a20"/>
<circle cx="429.7" cy="261.3" r="1.25" fill="#cf2a20"/>
<circle cx="427.3" cy="257.3" r="1.25" fill="#151515"/>
<circle cx="412.2" cy="272.4" r="1.25" fill="#cf2a20"/>
<circle cx="395.8" cy="276.4" r="1.25" fill="#cf2a20"/>
<circle cx="394.5" cy="266.6" r="1.25" fill="#151515"/>
<circle cx="427.0" cy="265.6" r="1.25" fill="#cf2a20"/>
<circle cx="406.0" cy="272.6" r="1.25" fill="#151515"/>
<circle cx="418.6" cy="271.7" r="1.25" fill="#151515"/>
<circle cx="429.0" cy="267.6" r="1.25" fill="#cf2a20"/>
<circle cx="453.2" cy="263.0" r="1.25" fill="#cf2a20"/>
<circle cx="413.2" cy="269.0" r="1.25" fill="#151515"/>
<circle cx="436.9" cy="261.3" r="1.25" fill="#cf2a20"/>
<circle cx="406.0" cy="273.7" r="1.25" fill="#cf2a20"/>
<circle cx="432.1" cy="252.3" r="1.25" fill="#cf2a20"/>
<circle cx="467.0" cy="220.6" r="1.25" fill="#151515"/>
<circle cx="412.9" cy="268.8" r="1.25" fill="#151515"/>
<circle cx="416.0" cy="273.9" r="1.25" fill="#cf2a20"/>
<circle cx="407.5" cy="283.4" r="1.25" fill="#cf2a20"/>
<circle cx="405.0" cy="263.6" r="1.25" fill="#cf2a20"/>
<circle cx="450.2" cy="250.4" r="1.25" fill="#cf2a20"/>
<circle cx="425.7" cy="266.2" r="1.25" fill="#cf2a20"/>
<circle cx="427.3" cy="263.4" r="1.25" fill="#cf2a20"/>
<circle cx="454.8" cy="247.4" r="1.25" fill="#cf2a20"/>
<circle cx="391.1" cy="282.5" r="1.25" fill="#151515"/>
<circle cx="411.9" cy="264.3" r="1.25" fill="#cf2a20"/>
<circle cx="434.4" cy="237.4" r="1.25" fill="#cf2a20"/>
<circle cx="434.3" cy="262.6" r="1.25" fill="#cf2a20"/>
<circle cx="400.5" cy="273.1" r="1.25" fill="#cf2a20"/>
<circle cx="424.5" cy="262.1" r="1.25" fill="#cf2a20"/>
<circle cx="396.2" cy="281.1" r="1.25" fill="#cf2a20"/>
<circle cx="403.6" cy="273.1" r="1.25" fill="#cf2a20"/>
<circle cx="461.2" cy="246.7" r="1.25" fill="#151515"/>
<circle cx="449.8" cy="246.5" r="1.25" fill="#cf2a20"/>
<circle cx="395.9" cy="281.2" r="1.25" fill="#cf2a20"/>
<circle cx="411.2" cy="274.1" r="1.25" fill="#cf2a20"/>
<circle cx="407.7" cy="275.8" r="1.25" fill="#cf2a20"/>
<circle cx="424.4" cy="274.8" r="1.25" fill="#cf2a20"/>
<circle cx="409.6" cy="275.2" r="1.25" fill="#cf2a20"/>
<circle cx="417.0" cy="268.1" r="1.25" fill="#151515"/>
<circle cx="448.0" cy="246.5" r="1.25" fill="#cf2a20"/>
<circle cx="448.8" cy="241.8" r="1.25" fill="#151515"/>
<circle cx="428.4" cy="268.5" r="1.25" fill="#cf2a20"/>
<circle cx="387.5" cy="281.0" r="1.25" fill="#151515"/>
<circle cx="453.2" cy="259.6" r="1.25" fill="#cf2a20"/>
<circle cx="422.9" cy="258.8" r="1.25" fill="#cf2a20"/>
<circle cx="416.0" cy="283.4" r="1.25" fill="#cf2a20"/>
<circle cx="419.9" cy="263.5" r="1.25" fill="#cf2a20"/>
<circle cx="407.0" cy="268.6" r="1.25" fill="#151515"/>
<circle cx="448.0" cy="207.0" r="1.25" fill="#151515"/>
<circle cx="430.1" cy="258.6" r="1.25" fill="#cf2a20"/>
<circle cx="431.0" cy="275.2" r="1.25" fill="#cf2a20"/>
<circle cx="456.8" cy="257.6" r="1.25" fill="#cf2a20"/>
<circle cx="414.8" cy="276.7" r="1.25" fill="#cf2a20"/>
<circle cx="433.0" cy="226.6" r="1.25" fill="#151515"/>
<circle cx="428.0" cy="229.0" r="1.25" fill="#151515"/>
<circle cx="398.1" cy="275.9" r="1.25" fill="#cf2a20"/>
<circle cx="431.8" cy="255.0" r="1.25" fill="#151515"/>
<circle cx="392.4" cy="279.5" r="1.25" fill="#151515"/>
<circle cx="390.8" cy="278.2" r="1.25" fill="#151515"/>
<circle cx="404.5" cy="275.2" r="1.25" fill="#151515"/>
<circle cx="435.9" cy="253.6" r="1.25" fill="#151515"/>
<circle cx="414.5" cy="269.1" r="1.25" fill="#cf2a20"/>
<circle cx="390.4" cy="285.7" r="1.25" fill="#151515"/>
<circle cx="454.2" cy="249.1" r="1.25" fill="#cf2a20"/>
<circle cx="452.0" cy="225.0" r="1.25" fill="#cf2a20"/>
<circle cx="429.2" cy="263.5" r="1.25" fill="#cf2a20"/>
<circle cx="415.5" cy="274.0" r="1.25" fill="#151515"/>
<circle cx="429.4" cy="272.3" r="1.25" fill="#cf2a20"/>
<circle cx="409.8" cy="270.3" r="1.25" fill="#cf2a20"/>
<circle cx="424.7" cy="265.4" r="1.25" fill="#cf2a20"/>
<circle cx="400.5" cy="277.5" r="1.25" fill="#cf2a20"/>
<circle cx="435.3" cy="256.6" r="1.25" fill="#151515"/>
<circle cx="410.6" cy="278.9" r="1.25" fill="#cf2a20"/>
<circle cx="446.7" cy="250.0" r="1.25" fill="#151515"/>
<circle cx="436.7" cy="265.9" r="1.25" fill="#cf2a20"/>
<circle cx="423.5" cy="271.4" r="1.25" fill="#151515"/>
<circle cx="433.5" cy="267.1" r="1.25" fill="#cf2a20"/>
<circle cx="404.8" cy="277.1" r="1.25" fill="#cf2a20"/>
<circle cx="437.1" cy="261.4" r="1.25" fill="#cf2a20"/>
<circle cx="452.3" cy="251.5" r="1.25" fill="#cf2a20"/>
<circle cx="394.6" cy="278.4" r="1.25" fill="#cf2a20"/>
<circle cx="422.0" cy="240.0" r="1.25" fill="#151515"/>
<circle cx="407.2" cy="281.9" r="1.25" fill="#cf2a20"/>
<circle cx="420.4" cy="274.7" r="1.25" fill="#cf2a20"/>
<circle cx="389.4" cy="283.1" r="1.25" fill="#cf2a20"/>
<circle cx="419.0" cy="273.3" r="1.25" fill="#cf2a20"/>
<circle cx="430.2" cy="262.8" r="1.25" fill="#cf2a20"/>
<circle cx="415.4" cy="270.2" r="1.25" fill="#151515"/>
<circle cx="394.0" cy="280.0" r="1.25" fill="#cf2a20"/>
<circle cx="421.9" cy="263.3" r="1.25" fill="#cf2a20"/>
<circle cx="442.9" cy="263.1" r="1.25" fill="#cf2a20"/>
<circle cx="402.2" cy="275.2" r="1.25" fill="#151515"/>
<circle cx="430.7" cy="264.7" r="1.25" fill="#151515"/>
<circle cx="402.9" cy="254.7" r="1.25" fill="#151515"/>
<circle cx="429.6" cy="257.5" r="1.25" fill="#151515"/>
<circle cx="430.0" cy="264.8" r="1.25" fill="#cf2a20"/>
<circle cx="415.4" cy="267.6" r="1.25" fill="#151515"/>
<circle cx="419.1" cy="262.9" r="1.25" fill="#cf2a20"/>
<circle cx="444.1" cy="251.2" r="1.25" fill="#151515"/>
<circle cx="416.4" cy="264.6" r="1.25" fill="#151515"/>
<circle cx="431.2" cy="255.8" r="1.25" fill="#cf2a20"/>
<circle cx="408.7" cy="271.1" r="1.25" fill="#cf2a20"/>
<circle cx="400.5" cy="270.8" r="1.25" fill="#151515"/>
<circle cx="394.1" cy="280.4" r="1.25" fill="#cf2a20"/>
<circle cx="434.2" cy="259.8" r="1.25" fill="#cf2a20"/>
<circle cx="427.4" cy="265.8" r="1.25" fill="#cf2a20"/>
<circle cx="418.8" cy="272.6" r="1.25" fill="#cf2a20"/>
<circle cx="411.6" cy="272.1" r="1.25" fill="#cf2a20"/>
<circle cx="413.5" cy="270.8" r="1.25" fill="#cf2a20"/>
<circle cx="417.5" cy="276.8" r="1.25" fill="#151515"/>
<circle cx="413.2" cy="276.0" r="1.25" fill="#cf2a20"/>
<rect x="362.5" y="191.2" width="141.00" height="126.20" class="bxl"/>
<line x1="379.70" y1="317.4" x2="379.70" y2="319.59999999999997" class="tkl"/>
<text x="380.50" y="327.3" text-anchor="middle" class="tk">&#8722;3</text>
<line x1="403.42" y1="317.4" x2="403.42" y2="319.59999999999997" class="tkl"/>
<text x="404.22" y="327.3" text-anchor="middle" class="tk">&#8722;2</text>
<line x1="427.14" y1="317.4" x2="427.14" y2="319.59999999999997" class="tkl"/>
<text x="427.94" y="327.3" text-anchor="middle" class="tk">&#8722;1</text>
<line x1="450.86" y1="317.4" x2="450.86" y2="319.59999999999997" class="tkl"/>
<text x="451.66" y="327.3" text-anchor="middle" class="tk">0</text>
<line x1="474.58" y1="317.4" x2="474.58" y2="319.59999999999997" class="tkl"/>
<text x="475.38" y="327.3" text-anchor="middle" class="tk">1</text>
<line x1="498.30" y1="317.4" x2="498.30" y2="319.59999999999997" class="tkl"/>
<text x="499.10" y="327.3" text-anchor="middle" class="tk">2</text>
<line x1="360.3" y1="201.55" x2="362.5" y2="201.55" class="tkl"/>
<text transform="translate(356.70,202.15) rotate(-90)" text-anchor="start" class="tk">&#8722;0.7</text>
<line x1="360.3" y1="224.45" x2="362.5" y2="224.45" class="tkl"/>
<text transform="translate(356.70,225.05) rotate(-90)" text-anchor="start" class="tk">&#8722;0.8</text>
<line x1="360.3" y1="247.35" x2="362.5" y2="247.35" class="tkl"/>
<text transform="translate(356.70,247.95) rotate(-90)" text-anchor="start" class="tk">&#8722;0.9</text>
<line x1="360.3" y1="270.25" x2="362.5" y2="270.25" class="tkl"/>
<text transform="translate(356.70,270.85) rotate(-90)" text-anchor="start" class="tk">&#8722;1.0</text>
<line x1="360.3" y1="293.15" x2="362.5" y2="293.15" class="tkl"/>
<text transform="translate(356.70,293.75) rotate(-90)" text-anchor="start" class="tk">&#8722;1.1</text>
<line x1="360.3" y1="316.05" x2="362.5" y2="316.05" class="tkl"/>
<text transform="translate(356.70,316.65) rotate(-90)" text-anchor="start" class="tk">&#8722;1.2</text>
<text transform="translate(347.0,252.1) rotate(-90)" text-anchor="middle" class="al">Hong et al. TGS</text>
</svg>
</body></html>
